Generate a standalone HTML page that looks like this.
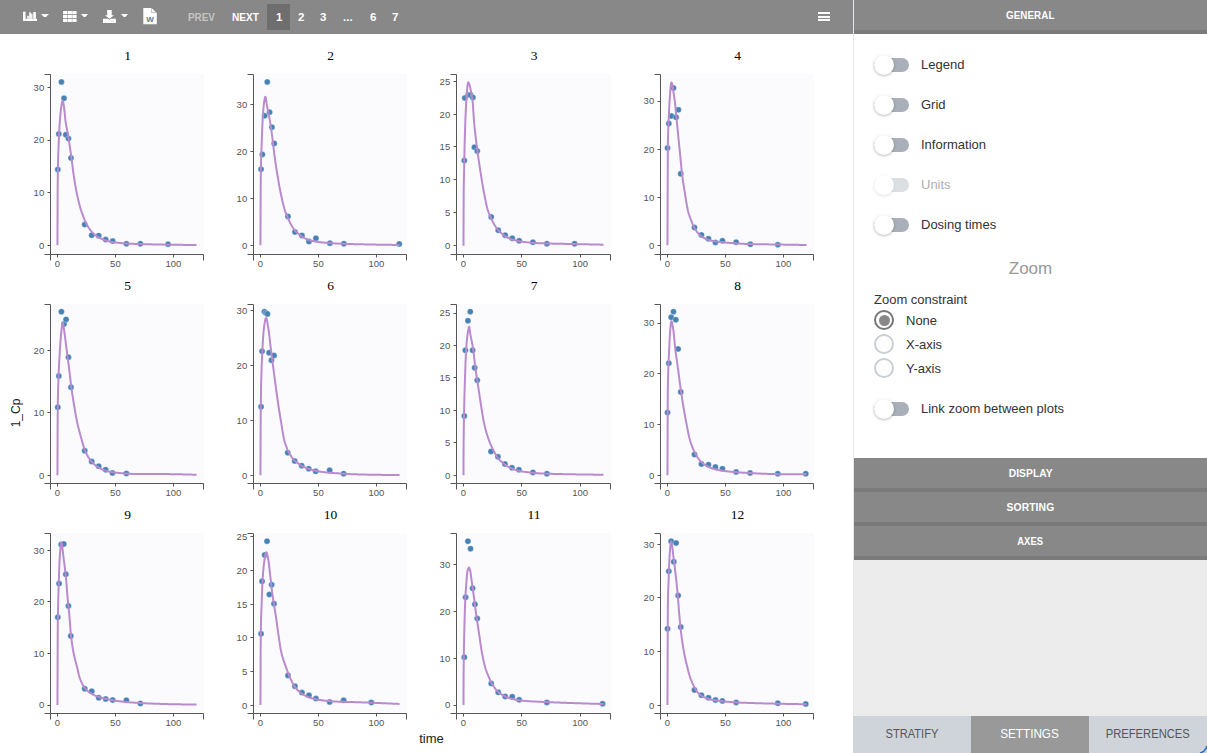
<!DOCTYPE html>
<html><head><meta charset="utf-8">
<style>
*{box-sizing:border-box;margin:0;padding:0}
html,body{width:1207px;height:753px;overflow:hidden;background:#fff;font-family:"Liberation Sans",sans-serif;}
.abs{position:absolute}
#toolbar{position:absolute;left:0;top:0;width:853px;height:34px;background:#888;}
#sep{position:absolute;left:853px;top:0;width:1px;height:716px;background:#e3e6ec;}
.pg{position:absolute;top:0;height:34px;line-height:34px;font-weight:bold;font-size:11.5px;color:#fff;}
.hdr{position:absolute;left:854px;width:353px;height:34px;background:#888;border-bottom:4px solid #7a7a7a;color:#fff;font-weight:bold;font-size:11px;text-align:center;line-height:31px;letter-spacing:0.1px}
.row{position:absolute;left:874px;height:20px;}
.tgl{position:absolute;left:874px;width:35px;height:14px;border-radius:7px;background:#a9b0b9;}
.knob{position:absolute;left:874px;width:20px;height:20px;border-radius:10px;background:#fff;box-shadow:0 1px 3px rgba(0,0,0,0.28);}
.lbl{position:absolute;left:921px;font-size:13px;color:#333;white-space:nowrap}
.rad{position:absolute;left:874px;width:20px;height:20px;border-radius:10px;border:2px solid #c9cfd6;background:#fff}
.tab{position:absolute;top:716px;height:37px;width:118px;text-align:center;line-height:35px;font-size:13px;color:#555;background:#cfd4db}
</style></head>
<body>
<div id="toolbar">
  <!-- chart icon -->
  <svg class="abs" style="left:23px;top:11px" width="14" height="11" viewBox="0 0 14 11">
    <g fill="#fff">
    <rect x="0" y="0.7" width="2.6" height="9.3"/>
    <rect x="0" y="7.8" width="14" height="2.2"/>
    <rect x="4.2" y="4.8" width="1.6" height="3"/>
    <rect x="6.2" y="1.4" width="1.7" height="6.4"/>
    <rect x="8.1" y="2.7" width="1.4" height="5.1"/>
    <rect x="10.3" y="1" width="2.6" height="6.8"/>
    </g>
  </svg>
  <svg class="abs" style="left:41px;top:14px" width="8" height="3" viewBox="0 0 8 3"><path d="M0 0H8L5 3H3Z" fill="#fff"/></svg>
  <!-- grid icon -->
  <svg class="abs" style="left:63px;top:10.9px" width="14" height="11" viewBox="0 0 14 11">
    <g fill="#fff">
    <rect x="0" y="0" width="4.3" height="3.2"/><rect x="4.7" y="0" width="4.2" height="3.2"/><rect x="9.3" y="0" width="4.3" height="3.2"/>
    <rect x="0" y="4" width="4.3" height="3.1"/><rect x="4.7" y="4" width="4.2" height="3.1"/><rect x="9.3" y="4" width="4.3" height="3.1"/>
    <rect x="0" y="7.9" width="4.3" height="3.1"/><rect x="4.7" y="7.9" width="4.2" height="3.1"/><rect x="9.3" y="7.9" width="4.3" height="3.1"/>
    </g>
  </svg>
  <svg class="abs" style="left:81px;top:14px" width="7" height="3" viewBox="0 0 7 3"><path d="M0 0H7L4.3 3H2.7Z" fill="#fff"/></svg>
  <!-- download icon -->
  <svg class="abs" style="left:103px;top:10px" width="13" height="13" viewBox="0 0 13 13">
    <path d="M4.2 0H8.7V5.2H11.1L6.45 8.7L1.9 5.2H4.2Z" fill="#fff"/>
    <path d="M0 8.7H5.2L6.45 9.7L7.7 8.7H12.9V12.9H0Z" fill="#fff"/>
    <rect x="8.3" y="10.6" width="0.9" height="0.9" fill="#bbb"/><rect x="9.8" y="10.6" width="0.9" height="0.9" fill="#bbb"/>
  </svg>
  <svg class="abs" style="left:121px;top:14px" width="7" height="3" viewBox="0 0 7 3"><path d="M0 0H7L4.3 3H2.7Z" fill="#fff"/></svg>
  <!-- word icon -->
  <svg class="abs" style="left:143px;top:7.8px" width="14" height="17" viewBox="0 0 14 17">
    <path d="M0.3 0H8.6L13.8 5V16.3H0.3Z" fill="#fff"/>
    <path d="M8.4 0V4.6H13.8" fill="none" stroke="#9a9a9a" stroke-width="0.6"/>
    <text x="7" y="14" font-family="Liberation Sans" font-weight="bold" font-size="8" fill="#6b7488" text-anchor="middle">W</text>
  </svg>
  <div class="pg" style="left:188px;color:#c4c4c4;transform:scaleX(0.86);transform-origin:0 0">PREV</div>
  <div class="pg" style="left:232px;transform:scaleX(0.88);transform-origin:0 0">NEXT</div>
  <div class="abs" style="left:267px;top:4px;width:23px;height:26px;background:#6e6e6e"></div>
  <div class="pg" style="left:276px">1</div>
  <div class="pg" style="left:298px">2</div>
  <div class="pg" style="left:320px">3</div>
  <div class="pg" style="left:343px">...</div>
  <div class="pg" style="left:370px">6</div>
  <div class="pg" style="left:392px">7</div>
  <!-- hamburger -->
  <div class="abs" style="left:818px;top:11.9px;width:12px;height:2px;background:#fff"></div>
  <div class="abs" style="left:818px;top:15.6px;width:12px;height:2px;background:#fff"></div>
  <div class="abs" style="left:818px;top:19.1px;width:12px;height:2px;background:#fff"></div>
</div>
<div id="sep"></div>

<svg style="position:absolute;left:0;top:0" width="853" height="753" viewBox="0 0 853 753">
<rect x="52" y="74" width="152" height="179" fill="#fbfbfe"/>
<text x="127.50" y="60" font-family="Liberation Serif" font-size="13.5" text-anchor="middle" fill="#000">1</text>
<path d="M44.5,74.5H50.5V254.5H44.5" stroke="#555" fill="none" stroke-width="1"/>
<line x1="47.5" y1="87.5" x2="50.5" y2="87.5" stroke="#555"/>
<text x="44.2" y="90.82" font-family="Liberation Sans" font-size="9.5" text-anchor="end" fill="#555">30</text>
<line x1="47.5" y1="140.5" x2="50.5" y2="140.5" stroke="#555"/>
<text x="44.2" y="143.45" font-family="Liberation Sans" font-size="9.5" text-anchor="end" fill="#555">20</text>
<line x1="47.5" y1="192.5" x2="50.5" y2="192.5" stroke="#555"/>
<text x="44.2" y="196.07" font-family="Liberation Sans" font-size="9.5" text-anchor="end" fill="#555">10</text>
<line x1="47.5" y1="245.5" x2="50.5" y2="245.5" stroke="#555"/>
<text x="44.2" y="248.70" font-family="Liberation Sans" font-size="9.5" text-anchor="end" fill="#555">0</text>
<path d="M50.5,260.5V254.5H203.5V260.5" stroke="#555" fill="none" stroke-width="1"/>
<line x1="57.5" y1="254.5" x2="57.5" y2="257.5" stroke="#555"/>
<text x="57.45" y="267.0" font-family="Liberation Sans" font-size="9.5" text-anchor="middle" fill="#555">0</text>
<line x1="115.5" y1="254.5" x2="115.5" y2="257.5" stroke="#555"/>
<text x="115.41" y="267.0" font-family="Liberation Sans" font-size="9.5" text-anchor="middle" fill="#555">50</text>
<line x1="173.5" y1="254.5" x2="173.5" y2="257.5" stroke="#555"/>
<text x="173.36" y="267.0" font-family="Liberation Sans" font-size="9.5" text-anchor="middle" fill="#555">100</text>
<circle cx="57.79" cy="169.40" r="3.0" fill="#4682b4" stroke="#fff" stroke-opacity="0.5" stroke-width="0.6"/>
<circle cx="58.83" cy="133.94" r="3.0" fill="#4682b4" stroke="#fff" stroke-opacity="0.5" stroke-width="0.6"/>
<circle cx="61.42" cy="81.91" r="3.0" fill="#4682b4" stroke="#fff" stroke-opacity="0.5" stroke-width="0.6"/>
<circle cx="64.01" cy="98.22" r="3.0" fill="#4682b4" stroke="#fff" stroke-opacity="0.5" stroke-width="0.6"/>
<circle cx="65.82" cy="134.71" r="3.0" fill="#4682b4" stroke="#fff" stroke-opacity="0.5" stroke-width="0.6"/>
<circle cx="68.41" cy="138.60" r="3.0" fill="#4682b4" stroke="#fff" stroke-opacity="0.5" stroke-width="0.6"/>
<circle cx="70.99" cy="158.01" r="3.0" fill="#4682b4" stroke="#fff" stroke-opacity="0.5" stroke-width="0.6"/>
<circle cx="84.71" cy="224.54" r="3.0" fill="#4682b4" stroke="#fff" stroke-opacity="0.5" stroke-width="0.6"/>
<circle cx="91.70" cy="235.15" r="3.0" fill="#4682b4" stroke="#fff" stroke-opacity="0.5" stroke-width="0.6"/>
<circle cx="98.69" cy="235.67" r="3.0" fill="#4682b4" stroke="#fff" stroke-opacity="0.5" stroke-width="0.6"/>
<circle cx="105.68" cy="239.55" r="3.0" fill="#4682b4" stroke="#fff" stroke-opacity="0.5" stroke-width="0.6"/>
<circle cx="112.67" cy="241.10" r="3.0" fill="#4682b4" stroke="#fff" stroke-opacity="0.5" stroke-width="0.6"/>
<circle cx="126.39" cy="243.69" r="3.0" fill="#4682b4" stroke="#fff" stroke-opacity="0.5" stroke-width="0.6"/>
<circle cx="140.37" cy="243.69" r="3.0" fill="#4682b4" stroke="#fff" stroke-opacity="0.5" stroke-width="0.6"/>
<circle cx="168.07" cy="244.21" r="3.0" fill="#4682b4" stroke="#fff" stroke-opacity="0.5" stroke-width="0.6"/>
<path d="M57.45,245.30L57.49,235.26L57.52,225.79L57.56,216.85L57.59,207.81L57.62,199.37L57.66,192.86L57.69,187.82L57.73,183.40L57.76,179.55L57.79,176.19L57.83,173.29L57.86,170.78L57.90,168.63L57.93,166.71L57.96,164.97L58.00,163.39L58.03,161.94L58.06,160.60L58.10,159.36L58.13,158.21L58.17,157.12L58.20,156.08L58.23,155.10L58.27,154.15L58.30,153.23L58.34,152.33L58.37,151.45L58.40,150.58L58.44,149.72L58.47,148.86L58.51,148.00L58.54,147.13L58.57,146.26L58.61,145.38L58.64,144.50L58.67,143.63L58.71,142.78L58.74,141.93L58.78,141.09L58.81,140.27L58.84,139.45L58.88,138.65L58.91,137.86L58.95,137.08L58.98,136.31L59.01,135.56L59.05,134.82L59.08,134.09L59.12,133.38L59.15,132.67L59.18,131.99L59.22,131.31L59.25,130.65L59.29,130.00L59.32,129.36L59.35,128.73L59.39,128.12L59.42,127.52L59.45,126.93L59.50,126.09L59.96,119.49L60.42,114.16L60.88,109.93L61.34,106.68L61.80,103.64L62.25,101.43L62.71,100.77L63.17,102.05L63.63,104.55L64.09,107.42L64.55,111.67L65.00,116.73L65.46,120.54L65.92,123.59L66.38,126.26L66.84,128.73L67.30,131.16L67.75,133.63L68.21,136.25L68.67,139.05L69.13,141.97L69.59,144.99L70.05,148.07L70.50,151.22L70.96,154.41L71.42,157.70L71.88,161.27L72.34,164.98L72.80,168.64L73.25,172.12L73.71,175.30L74.17,178.32L74.63,181.24L75.09,184.03L75.55,186.70L76.00,189.23L76.46,191.63L76.92,193.88L77.38,196.03L77.84,198.09L78.30,200.06L78.75,201.95L79.21,203.75L79.67,205.48L80.13,207.13L80.59,208.70L81.05,210.20L81.50,211.61L81.96,212.92L82.42,214.18L82.88,215.41L83.34,216.63L83.80,217.81L84.25,218.95L84.71,220.05L85.17,221.08L85.63,222.07L86.09,223.03L86.55,223.95L87.00,224.82L87.46,225.66L87.92,226.45L88.38,227.21L88.84,227.95L89.30,228.65L89.75,229.32L90.21,229.95L90.67,230.54L91.13,231.09L91.59,231.62L92.05,232.11L92.50,232.58L92.96,233.03L93.42,233.46L93.88,233.87L94.34,234.27L94.80,234.65L95.25,235.02L95.71,235.37L96.17,235.71L96.63,236.04L97.09,236.35L97.55,236.65L98.00,236.94L98.46,237.21L98.92,237.47L99.38,237.72L99.84,237.96L100.30,238.19L100.75,238.42L101.21,238.64L101.67,238.84L102.13,239.05L102.59,239.25L103.05,239.44L103.50,239.64L103.96,239.82L104.42,240.01L104.88,240.18L105.34,240.35L105.80,240.51L106.25,240.65L106.71,240.79L107.17,240.92L107.63,241.04L108.09,241.15L108.55,241.26L109.00,241.36L109.46,241.46L109.92,241.55L110.38,241.65L110.84,241.73L111.30,241.82L111.75,241.90L112.21,241.98L112.67,242.06L113.13,242.13L113.59,242.21L114.05,242.28L114.50,242.35L114.96,242.41L115.42,242.48L115.88,242.54L116.34,242.60L116.80,242.65L117.25,242.71L117.71,242.76L118.17,242.81L118.63,242.86L119.09,242.91L119.55,242.95L120.00,243.00L120.46,243.04L120.92,243.08L121.38,243.12L121.84,243.16L122.30,243.20L122.75,243.24L123.21,243.27L123.67,243.31L124.13,243.34L124.59,243.37L125.05,243.41L125.50,243.44L125.96,243.47L126.42,243.50L126.88,243.52L127.34,243.55L127.80,243.58L128.25,243.60L128.71,243.63L129.17,243.65L129.63,243.67L130.09,243.70L130.55,243.72L131.00,243.74L131.46,243.76L131.92,243.78L132.38,243.80L132.84,243.82L133.30,243.84L133.75,243.86L134.21,243.88L134.67,243.89L135.13,243.91L135.59,243.93L136.05,243.95L136.50,243.96L136.96,243.98L137.42,244.00L137.88,244.01L138.34,244.03L138.80,244.05L139.25,244.06L139.71,244.08L140.17,244.09L140.63,244.11L141.09,244.12L141.55,244.14L142.00,244.15L142.46,244.16L142.92,244.18L143.38,244.19L143.84,244.20L144.30,244.21L144.75,244.22L145.21,244.23L145.67,244.24L146.13,244.25L146.59,244.27L147.05,244.28L147.50,244.29L147.96,244.30L148.42,244.31L148.88,244.32L149.34,244.33L149.80,244.34L150.25,244.35L150.71,244.36L151.17,244.37L151.63,244.38L152.09,244.39L152.55,244.40L153.00,244.41L153.46,244.42L153.92,244.43L154.38,244.44L154.84,244.45L155.30,244.46L155.75,244.47L156.21,244.47L156.67,244.48L157.13,244.49L157.59,244.50L158.05,244.51L158.50,244.52L158.96,244.53L159.42,244.54L159.88,244.54L160.34,244.55L160.80,244.56L161.25,244.57L161.71,244.58L162.17,244.59L162.63,244.59L163.09,244.60L163.55,244.61L164.00,244.62L164.46,244.63L164.92,244.63L165.38,244.64L165.84,244.65L166.30,244.66L166.75,244.66L167.21,244.67L167.67,244.68L168.13,244.68L168.59,244.69L169.05,244.70L169.50,244.71L169.96,244.71L170.42,244.72L170.88,244.73L171.34,244.73L171.80,244.74L172.25,244.74L172.71,244.75L173.17,244.76L173.63,244.76L174.09,244.77L174.55,244.78L175.00,244.78L175.46,244.79L175.92,244.79L176.38,244.80L176.84,244.80L177.30,244.81L177.75,244.82L178.21,244.82L178.67,244.83L179.13,244.83L179.59,244.84L180.05,244.84L180.50,244.85L180.96,244.85L181.42,244.86L181.88,244.86L182.34,244.87L182.80,244.87L183.25,244.88L183.71,244.88L184.17,244.89L184.63,244.89L185.09,244.89L185.55,244.90L186.00,244.90L186.46,244.91L186.92,244.91L187.38,244.91L187.84,244.92L188.30,244.92L188.75,244.93L189.21,244.93L189.67,244.93L190.13,244.94L190.59,244.94L191.05,244.94L191.50,244.95L191.96,244.95L192.42,244.95L192.88,244.96L193.34,244.96L193.80,244.96L194.25,244.97L194.71,244.97L195.17,244.97L195.63,244.98L196.09,244.98L196.55,244.98" stroke="#b98bce" stroke-width="2" fill="none" stroke-linejoin="round"/>
<rect x="255" y="74" width="152" height="179" fill="#fbfbfe"/>
<text x="330.50" y="60" font-family="Liberation Serif" font-size="13.5" text-anchor="middle" fill="#000">2</text>
<path d="M247.5,74.5H253.5V254.5H247.5" stroke="#555" fill="none" stroke-width="1"/>
<line x1="250.5" y1="104.5" x2="253.5" y2="104.5" stroke="#555"/>
<text x="247.2" y="107.78" font-family="Liberation Sans" font-size="9.5" text-anchor="end" fill="#555">30</text>
<line x1="250.5" y1="151.5" x2="253.5" y2="151.5" stroke="#555"/>
<text x="247.2" y="154.71" font-family="Liberation Sans" font-size="9.5" text-anchor="end" fill="#555">20</text>
<line x1="250.5" y1="198.5" x2="253.5" y2="198.5" stroke="#555"/>
<text x="247.2" y="201.64" font-family="Liberation Sans" font-size="9.5" text-anchor="end" fill="#555">10</text>
<line x1="250.5" y1="245.5" x2="253.5" y2="245.5" stroke="#555"/>
<text x="247.2" y="248.57" font-family="Liberation Sans" font-size="9.5" text-anchor="end" fill="#555">0</text>
<path d="M253.5,260.5V254.5H406.5V260.5" stroke="#555" fill="none" stroke-width="1"/>
<line x1="260.5" y1="254.5" x2="260.5" y2="257.5" stroke="#555"/>
<text x="260.45" y="267.0" font-family="Liberation Sans" font-size="9.5" text-anchor="middle" fill="#555">0</text>
<line x1="318.5" y1="254.5" x2="318.5" y2="257.5" stroke="#555"/>
<text x="318.41" y="267.0" font-family="Liberation Sans" font-size="9.5" text-anchor="middle" fill="#555">50</text>
<line x1="376.5" y1="254.5" x2="376.5" y2="257.5" stroke="#555"/>
<text x="376.36" y="267.0" font-family="Liberation Sans" font-size="9.5" text-anchor="middle" fill="#555">100</text>
<circle cx="261.05" cy="169.14" r="3.0" fill="#4682b4" stroke="#fff" stroke-opacity="0.5" stroke-width="0.6"/>
<circle cx="262.35" cy="154.39" r="3.0" fill="#4682b4" stroke="#fff" stroke-opacity="0.5" stroke-width="0.6"/>
<circle cx="264.68" cy="115.82" r="3.0" fill="#4682b4" stroke="#fff" stroke-opacity="0.5" stroke-width="0.6"/>
<circle cx="267.26" cy="81.91" r="3.0" fill="#4682b4" stroke="#fff" stroke-opacity="0.5" stroke-width="0.6"/>
<circle cx="269.59" cy="112.19" r="3.0" fill="#4682b4" stroke="#fff" stroke-opacity="0.5" stroke-width="0.6"/>
<circle cx="271.92" cy="127.21" r="3.0" fill="#4682b4" stroke="#fff" stroke-opacity="0.5" stroke-width="0.6"/>
<circle cx="274.25" cy="143.51" r="3.0" fill="#4682b4" stroke="#fff" stroke-opacity="0.5" stroke-width="0.6"/>
<circle cx="287.97" cy="216.51" r="3.0" fill="#4682b4" stroke="#fff" stroke-opacity="0.5" stroke-width="0.6"/>
<circle cx="294.96" cy="232.04" r="3.0" fill="#4682b4" stroke="#fff" stroke-opacity="0.5" stroke-width="0.6"/>
<circle cx="301.95" cy="235.41" r="3.0" fill="#4682b4" stroke="#fff" stroke-opacity="0.5" stroke-width="0.6"/>
<circle cx="308.94" cy="241.62" r="3.0" fill="#4682b4" stroke="#fff" stroke-opacity="0.5" stroke-width="0.6"/>
<circle cx="315.93" cy="238.26" r="3.0" fill="#4682b4" stroke="#fff" stroke-opacity="0.5" stroke-width="0.6"/>
<circle cx="329.91" cy="243.17" r="3.0" fill="#4682b4" stroke="#fff" stroke-opacity="0.5" stroke-width="0.6"/>
<circle cx="343.89" cy="243.69" r="3.0" fill="#4682b4" stroke="#fff" stroke-opacity="0.5" stroke-width="0.6"/>
<circle cx="399.28" cy="243.95" r="3.0" fill="#4682b4" stroke="#fff" stroke-opacity="0.5" stroke-width="0.6"/>
<path d="M260.45,245.17L260.49,235.19L260.52,225.77L260.56,216.85L260.59,207.81L260.62,199.37L260.66,192.86L260.69,187.82L260.73,183.40L260.76,179.55L260.79,176.19L260.83,173.29L260.86,170.78L260.90,168.63L260.93,166.72L260.96,165.01L261.00,163.46L261.03,162.05L261.06,160.75L261.10,159.55L261.13,158.43L261.17,157.37L261.20,156.36L261.23,155.40L261.27,154.46L261.30,153.55L261.34,152.65L261.37,151.76L261.40,150.88L261.44,149.98L261.47,149.09L261.51,148.18L261.54,147.25L261.57,146.31L261.61,145.35L261.64,144.39L261.67,143.41L261.71,142.44L261.74,141.47L261.78,140.50L261.81,139.53L261.84,138.57L261.88,137.62L261.91,136.69L261.95,135.76L261.98,134.84L262.01,133.94L262.05,133.04L262.08,132.17L262.12,131.31L262.15,130.46L262.18,129.63L262.22,128.82L262.25,128.03L262.29,127.25L262.32,126.49L262.35,125.75L262.39,125.03L262.42,124.32L262.45,123.63L262.50,122.66L262.96,114.59L263.42,108.21L263.88,103.98L264.34,100.56L264.80,98.02L265.25,96.78L265.71,97.42L266.17,100.32L266.63,103.67L267.09,106.33L267.55,108.65L268.00,110.88L268.46,113.12L268.92,115.43L269.38,117.87L269.84,120.49L270.30,123.33L270.75,126.33L271.21,129.46L271.67,132.68L272.13,135.96L272.59,139.39L273.05,143.24L273.50,147.27L273.96,151.24L274.42,154.95L274.88,158.35L275.34,161.59L275.80,164.70L276.25,167.71L276.71,170.63L277.17,173.47L277.63,176.26L278.09,179.01L278.55,181.69L279.00,184.30L279.46,186.83L279.92,189.26L280.38,191.58L280.84,193.81L281.30,195.98L281.75,198.11L282.21,200.17L282.67,202.16L283.13,204.06L283.59,205.86L284.05,207.55L284.50,209.12L284.96,210.56L285.42,211.89L285.88,213.11L286.34,214.27L286.80,215.38L287.25,216.48L287.71,217.56L288.17,218.64L288.63,219.69L289.09,220.71L289.55,221.69L290.00,222.63L290.46,223.51L290.92,224.36L291.38,225.17L291.84,225.96L292.30,226.72L292.75,227.44L293.21,228.13L293.67,228.78L294.13,229.39L294.59,229.95L295.05,230.49L295.50,230.99L295.96,231.47L296.42,231.93L296.88,232.37L297.34,232.79L297.80,233.21L298.25,233.61L298.71,234.00L299.17,234.39L299.63,234.77L300.09,235.14L300.55,235.50L301.00,235.84L301.46,236.18L301.92,236.49L302.38,236.80L302.84,237.08L303.30,237.36L303.75,237.62L304.21,237.88L304.67,238.12L305.13,238.36L305.59,238.59L306.05,238.81L306.50,239.01L306.96,239.21L307.42,239.40L307.88,239.57L308.34,239.74L308.80,239.90L309.25,240.05L309.71,240.20L310.17,240.34L310.63,240.47L311.09,240.60L311.55,240.72L312.00,240.83L312.46,240.94L312.92,241.05L313.38,241.15L313.84,241.25L314.30,241.35L314.75,241.44L315.21,241.53L315.67,241.61L316.13,241.69L316.59,241.77L317.05,241.84L317.50,241.91L317.96,241.97L318.42,242.04L318.88,242.10L319.34,242.15L319.80,242.21L320.25,242.26L320.71,242.31L321.17,242.36L321.63,242.41L322.09,242.46L322.55,242.50L323.00,242.54L323.46,242.59L323.92,242.62L324.38,242.66L324.84,242.70L325.30,242.73L325.75,242.77L326.21,242.80L326.67,242.84L327.13,242.87L327.59,242.91L328.05,242.94L328.50,242.97L328.96,243.01L329.42,243.04L329.88,243.07L330.34,243.10L330.80,243.14L331.25,243.17L331.71,243.20L332.17,243.23L332.63,243.26L333.09,243.29L333.55,243.32L334.00,243.35L334.46,243.38L334.92,243.42L335.38,243.45L335.84,243.48L336.30,243.51L336.75,243.54L337.21,243.57L337.67,243.60L338.13,243.62L338.59,243.65L339.05,243.67L339.50,243.69L339.96,243.72L340.42,243.73L340.88,243.75L341.34,243.77L341.80,243.79L342.25,243.80L342.71,243.82L343.17,243.83L343.63,243.85L344.09,243.86L344.55,243.87L345.00,243.89L345.46,243.90L345.92,243.91L346.38,243.93L346.84,243.94L347.30,243.95L347.75,243.97L348.21,243.98L348.67,243.99L349.13,244.00L349.59,244.02L350.05,244.03L350.50,244.04L350.96,244.05L351.42,244.07L351.88,244.08L352.34,244.09L352.80,244.10L353.25,244.11L353.71,244.13L354.17,244.14L354.63,244.15L355.09,244.16L355.55,244.17L356.00,244.18L356.46,244.20L356.92,244.21L357.38,244.22L357.84,244.23L358.30,244.24L358.75,244.25L359.21,244.26L359.67,244.27L360.13,244.28L360.59,244.29L361.05,244.31L361.50,244.32L361.96,244.33L362.42,244.34L362.88,244.35L363.34,244.36L363.80,244.37L364.25,244.38L364.71,244.39L365.17,244.40L365.63,244.41L366.09,244.42L366.55,244.43L367.00,244.44L367.46,244.45L367.92,244.46L368.38,244.47L368.84,244.48L369.30,244.48L369.75,244.49L370.21,244.50L370.67,244.51L371.13,244.52L371.59,244.53L372.05,244.54L372.50,244.55L372.96,244.56L373.42,244.57L373.88,244.58L374.34,244.58L374.80,244.59L375.25,244.60L375.71,244.61L376.17,244.62L376.63,244.63L377.09,244.63L377.55,244.64L378.00,244.65L378.46,244.66L378.92,244.67L379.38,244.68L379.84,244.68L380.30,244.69L380.75,244.70L381.21,244.71L381.67,244.72L382.13,244.72L382.59,244.73L383.05,244.74L383.50,244.75L383.96,244.75L384.42,244.76L384.88,244.77L385.34,244.78L385.80,244.78L386.25,244.79L386.71,244.80L387.17,244.80L387.63,244.81L388.09,244.82L388.55,244.82L389.00,244.83L389.46,244.84L389.92,244.85L390.38,244.85L390.84,244.86L391.30,244.87L391.75,244.87L392.21,244.88L392.67,244.89L393.13,244.89L393.59,244.90L394.05,244.90L394.50,244.91L394.96,244.92L395.42,244.92L395.88,244.93L396.34,244.94L396.80,244.94L397.25,244.95L397.71,244.95L398.17,244.96L398.63,244.97L399.09,244.97L399.55,244.98" stroke="#b98bce" stroke-width="2" fill="none" stroke-linejoin="round"/>
<rect x="458" y="74" width="153" height="179" fill="#fbfbfe"/>
<text x="534.00" y="60" font-family="Liberation Serif" font-size="13.5" text-anchor="middle" fill="#000">3</text>
<path d="M450.5,74.5H456.5V254.5H450.5" stroke="#555" fill="none" stroke-width="1"/>
<line x1="453.5" y1="81.5" x2="456.5" y2="81.5" stroke="#555"/>
<text x="450.2" y="84.60" font-family="Liberation Sans" font-size="9.5" text-anchor="end" fill="#555">25</text>
<line x1="453.5" y1="114.5" x2="456.5" y2="114.5" stroke="#555"/>
<text x="450.2" y="117.50" font-family="Liberation Sans" font-size="9.5" text-anchor="end" fill="#555">20</text>
<line x1="453.5" y1="146.5" x2="456.5" y2="146.5" stroke="#555"/>
<text x="450.2" y="150.40" font-family="Liberation Sans" font-size="9.5" text-anchor="end" fill="#555">15</text>
<line x1="453.5" y1="179.5" x2="456.5" y2="179.5" stroke="#555"/>
<text x="450.2" y="183.30" font-family="Liberation Sans" font-size="9.5" text-anchor="end" fill="#555">10</text>
<line x1="453.5" y1="212.5" x2="456.5" y2="212.5" stroke="#555"/>
<text x="450.2" y="216.19" font-family="Liberation Sans" font-size="9.5" text-anchor="end" fill="#555">5</text>
<line x1="453.5" y1="245.5" x2="456.5" y2="245.5" stroke="#555"/>
<text x="450.2" y="249.09" font-family="Liberation Sans" font-size="9.5" text-anchor="end" fill="#555">0</text>
<path d="M456.5,260.5V254.5H610.5V260.5" stroke="#555" fill="none" stroke-width="1"/>
<line x1="463.5" y1="254.5" x2="463.5" y2="257.5" stroke="#555"/>
<text x="463.50" y="267.0" font-family="Liberation Sans" font-size="9.5" text-anchor="middle" fill="#555">0</text>
<line x1="521.5" y1="254.5" x2="521.5" y2="257.5" stroke="#555"/>
<text x="521.83" y="267.0" font-family="Liberation Sans" font-size="9.5" text-anchor="middle" fill="#555">50</text>
<line x1="580.5" y1="254.5" x2="580.5" y2="257.5" stroke="#555"/>
<text x="580.17" y="267.0" font-family="Liberation Sans" font-size="9.5" text-anchor="middle" fill="#555">100</text>
<circle cx="464.31" cy="160.60" r="3.0" fill="#4682b4" stroke="#fff" stroke-opacity="0.5" stroke-width="0.6"/>
<circle cx="464.83" cy="97.96" r="3.0" fill="#4682b4" stroke="#fff" stroke-opacity="0.5" stroke-width="0.6"/>
<circle cx="468.19" cy="95.11" r="3.0" fill="#4682b4" stroke="#fff" stroke-opacity="0.5" stroke-width="0.6"/>
<circle cx="470.52" cy="95.11" r="3.0" fill="#4682b4" stroke="#fff" stroke-opacity="0.5" stroke-width="0.6"/>
<circle cx="472.85" cy="97.44" r="3.0" fill="#4682b4" stroke="#fff" stroke-opacity="0.5" stroke-width="0.6"/>
<circle cx="474.41" cy="147.14" r="3.0" fill="#4682b4" stroke="#fff" stroke-opacity="0.5" stroke-width="0.6"/>
<circle cx="477.25" cy="151.02" r="3.0" fill="#4682b4" stroke="#fff" stroke-opacity="0.5" stroke-width="0.6"/>
<circle cx="491.23" cy="217.03" r="3.0" fill="#4682b4" stroke="#fff" stroke-opacity="0.5" stroke-width="0.6"/>
<circle cx="498.22" cy="230.23" r="3.0" fill="#4682b4" stroke="#fff" stroke-opacity="0.5" stroke-width="0.6"/>
<circle cx="505.21" cy="235.15" r="3.0" fill="#4682b4" stroke="#fff" stroke-opacity="0.5" stroke-width="0.6"/>
<circle cx="512.20" cy="238.26" r="3.0" fill="#4682b4" stroke="#fff" stroke-opacity="0.5" stroke-width="0.6"/>
<circle cx="519.19" cy="240.84" r="3.0" fill="#4682b4" stroke="#fff" stroke-opacity="0.5" stroke-width="0.6"/>
<circle cx="532.91" cy="242.14" r="3.0" fill="#4682b4" stroke="#fff" stroke-opacity="0.5" stroke-width="0.6"/>
<circle cx="546.89" cy="243.69" r="3.0" fill="#4682b4" stroke="#fff" stroke-opacity="0.5" stroke-width="0.6"/>
<circle cx="574.58" cy="243.69" r="3.0" fill="#4682b4" stroke="#fff" stroke-opacity="0.5" stroke-width="0.6"/>
<path d="M463.50,245.69L463.53,235.46L463.57,225.87L463.60,216.84L463.64,207.39L463.67,198.69L463.70,193.01L463.74,189.48L463.77,186.62L463.81,184.26L463.84,182.27L463.87,180.54L463.91,178.99L463.94,177.54L463.97,176.12L464.01,174.70L464.04,173.23L464.08,171.67L464.11,170.00L464.14,168.22L464.18,166.41L464.21,164.59L464.25,162.76L464.28,160.94L464.31,159.14L464.35,157.37L464.38,155.63L464.42,153.93L464.45,152.27L464.48,150.66L464.52,149.10L464.55,147.60L464.58,146.15L464.62,144.76L464.65,143.39L464.69,142.05L464.72,140.74L464.75,139.45L464.79,138.19L464.82,136.96L464.86,135.75L464.89,134.57L464.92,133.41L464.96,132.28L464.99,131.17L465.03,130.09L465.06,129.02L465.09,127.99L465.13,126.97L465.16,125.97L465.19,125.00L465.23,124.05L465.26,123.12L465.30,122.21L465.33,121.31L465.36,120.43L465.40,119.56L465.43,118.70L465.47,117.85L465.50,117.01L465.55,115.80L466.01,105.87L466.47,98.35L466.93,91.96L467.40,86.43L467.86,83.07L468.32,82.39L468.78,82.95L469.24,84.07L469.70,85.61L470.16,87.49L470.63,89.62L471.09,91.95L471.55,94.44L472.01,97.05L472.47,99.76L472.93,104.73L473.39,112.38L473.85,119.09L474.32,124.27L474.78,128.96L475.24,133.31L475.70,137.44L476.16,141.34L476.62,145.00L477.08,148.49L477.55,151.87L478.01,155.20L478.47,158.47L478.93,161.66L479.39,164.78L479.85,167.83L480.31,170.81L480.78,173.74L481.24,176.63L481.70,179.50L482.16,182.33L482.62,185.09L483.08,187.77L483.54,190.35L484.00,192.81L484.47,195.20L484.93,197.58L485.39,199.91L485.85,202.15L486.31,204.28L486.77,206.27L487.23,208.09L487.70,209.73L488.16,211.18L488.62,212.49L489.08,213.70L489.54,214.83L490.00,215.91L490.46,216.97L490.93,218.00L491.39,218.99L491.85,219.93L492.31,220.85L492.77,221.73L493.23,222.58L493.69,223.41L494.16,224.22L494.62,225.02L495.08,225.80L495.54,226.55L496.00,227.27L496.46,227.95L496.92,228.58L497.38,229.17L497.85,229.73L498.31,230.25L498.77,230.74L499.23,231.21L499.69,231.66L500.15,232.09L500.61,232.51L501.08,232.92L501.54,233.32L502.00,233.72L502.46,234.10L502.92,234.48L503.38,234.84L503.84,235.19L504.31,235.53L504.77,235.86L505.23,236.17L505.69,236.46L506.15,236.74L506.61,237.01L507.07,237.27L507.53,237.52L508.00,237.76L508.46,237.99L508.92,238.22L509.38,238.43L509.84,238.63L510.30,238.82L510.76,239.00L511.23,239.17L511.69,239.33L512.15,239.48L512.61,239.63L513.07,239.77L513.53,239.90L513.99,240.03L514.46,240.16L514.92,240.28L515.38,240.40L515.84,240.52L516.30,240.63L516.76,240.74L517.22,240.85L517.68,240.95L518.15,241.05L518.61,241.15L519.07,241.24L519.53,241.32L519.99,241.40L520.45,241.48L520.91,241.55L521.38,241.62L521.84,241.68L522.30,241.74L522.76,241.80L523.22,241.86L523.68,241.92L524.14,241.97L524.61,242.02L525.07,242.08L525.53,242.13L525.99,242.18L526.45,242.23L526.91,242.28L527.37,242.33L527.84,242.38L528.30,242.43L528.76,242.47L529.22,242.52L529.68,242.56L530.14,242.60L530.60,242.64L531.06,242.68L531.53,242.71L531.99,242.75L532.45,242.79L532.91,242.82L533.37,242.85L533.83,242.89L534.29,242.92L534.76,242.95L535.22,242.97L535.68,243.00L536.14,243.03L536.60,243.05L537.06,243.08L537.52,243.10L537.99,243.13L538.45,243.15L538.91,243.17L539.37,243.20L539.83,243.22L540.29,243.24L540.75,243.26L541.21,243.28L541.68,243.30L542.14,243.31L542.60,243.33L543.06,243.35L543.52,243.36L543.98,243.38L544.44,243.39L544.91,243.41L545.37,243.43L545.83,243.44L546.29,243.45L546.75,243.47L547.21,243.48L547.67,243.50L548.14,243.51L548.60,243.52L549.06,243.53L549.52,243.55L549.98,243.56L550.44,243.57L550.90,243.58L551.37,243.59L551.83,243.61L552.29,243.62L552.75,243.63L553.21,243.64L553.67,243.65L554.13,243.66L554.59,243.67L555.06,243.68L555.52,243.69L555.98,243.70L556.44,243.71L556.90,243.72L557.36,243.73L557.82,243.74L558.29,243.75L558.75,243.76L559.21,243.77L559.67,243.78L560.13,243.79L560.59,243.80L561.05,243.81L561.52,243.82L561.98,243.83L562.44,243.84L562.90,243.84L563.36,243.85L563.82,243.86L564.28,243.87L564.74,243.88L565.21,243.89L565.67,243.90L566.13,243.91L566.59,243.92L567.05,243.92L567.51,243.93L567.97,243.94L568.44,243.95L568.90,243.96L569.36,243.97L569.82,243.98L570.28,243.99L570.74,244.00L571.20,244.00L571.67,244.01L572.13,244.02L572.59,244.03L573.05,244.04L573.51,244.05L573.97,244.06L574.43,244.07L574.89,244.08L575.36,244.09L575.82,244.10L576.28,244.11L576.74,244.11L577.20,244.12L577.66,244.13L578.12,244.14L578.59,244.15L579.05,244.16L579.51,244.17L579.97,244.18L580.43,244.19L580.89,244.20L581.35,244.21L581.82,244.22L582.28,244.23L582.74,244.24L583.20,244.25L583.66,244.26L584.12,244.27L584.58,244.28L585.05,244.29L585.51,244.30L585.97,244.31L586.43,244.32L586.89,244.33L587.35,244.34L587.81,244.35L588.27,244.36L588.74,244.37L589.20,244.38L589.66,244.39L590.12,244.40L590.58,244.41L591.04,244.42L591.50,244.44L591.97,244.45L592.43,244.46L592.89,244.47L593.35,244.48L593.81,244.49L594.27,244.50L594.73,244.51L595.20,244.52L595.66,244.53L596.12,244.54L596.58,244.55L597.04,244.56L597.50,244.57L597.96,244.58L598.42,244.59L598.89,244.60L599.35,244.61L599.81,244.62L600.27,244.63L600.73,244.64L601.19,244.65L601.65,244.66L602.12,244.67L602.58,244.68L603.04,244.69L603.50,244.70" stroke="#b98bce" stroke-width="2" fill="none" stroke-linejoin="round"/>
<rect x="662" y="74" width="152" height="179" fill="#fbfbfe"/>
<text x="737.50" y="60" font-family="Liberation Serif" font-size="13.5" text-anchor="middle" fill="#000">4</text>
<path d="M654.5,74.5H660.5V254.5H654.5" stroke="#555" fill="none" stroke-width="1"/>
<line x1="657.5" y1="101.5" x2="660.5" y2="101.5" stroke="#555"/>
<text x="654.2" y="104.41" font-family="Liberation Sans" font-size="9.5" text-anchor="end" fill="#555">30</text>
<line x1="657.5" y1="149.5" x2="660.5" y2="149.5" stroke="#555"/>
<text x="654.2" y="152.51" font-family="Liberation Sans" font-size="9.5" text-anchor="end" fill="#555">20</text>
<line x1="657.5" y1="197.5" x2="660.5" y2="197.5" stroke="#555"/>
<text x="654.2" y="200.60" font-family="Liberation Sans" font-size="9.5" text-anchor="end" fill="#555">10</text>
<line x1="657.5" y1="245.5" x2="660.5" y2="245.5" stroke="#555"/>
<text x="654.2" y="248.70" font-family="Liberation Sans" font-size="9.5" text-anchor="end" fill="#555">0</text>
<path d="M660.5,260.5V254.5H813.5V260.5" stroke="#555" fill="none" stroke-width="1"/>
<line x1="667.5" y1="254.5" x2="667.5" y2="257.5" stroke="#555"/>
<text x="667.45" y="267.0" font-family="Liberation Sans" font-size="9.5" text-anchor="middle" fill="#555">0</text>
<line x1="725.5" y1="254.5" x2="725.5" y2="257.5" stroke="#555"/>
<text x="725.41" y="267.0" font-family="Liberation Sans" font-size="9.5" text-anchor="middle" fill="#555">50</text>
<line x1="783.5" y1="254.5" x2="783.5" y2="257.5" stroke="#555"/>
<text x="783.36" y="267.0" font-family="Liberation Sans" font-size="9.5" text-anchor="middle" fill="#555">100</text>
<circle cx="667.53" cy="147.92" r="3.0" fill="#4682b4" stroke="#fff" stroke-opacity="0.5" stroke-width="0.6"/>
<circle cx="668.83" cy="123.58" r="3.0" fill="#4682b4" stroke="#fff" stroke-opacity="0.5" stroke-width="0.6"/>
<circle cx="671.42" cy="116.08" r="3.0" fill="#4682b4" stroke="#fff" stroke-opacity="0.5" stroke-width="0.6"/>
<circle cx="673.49" cy="88.12" r="3.0" fill="#4682b4" stroke="#fff" stroke-opacity="0.5" stroke-width="0.6"/>
<circle cx="676.08" cy="117.37" r="3.0" fill="#4682b4" stroke="#fff" stroke-opacity="0.5" stroke-width="0.6"/>
<circle cx="678.41" cy="109.86" r="3.0" fill="#4682b4" stroke="#fff" stroke-opacity="0.5" stroke-width="0.6"/>
<circle cx="680.74" cy="173.80" r="3.0" fill="#4682b4" stroke="#fff" stroke-opacity="0.5" stroke-width="0.6"/>
<circle cx="694.46" cy="227.38" r="3.0" fill="#4682b4" stroke="#fff" stroke-opacity="0.5" stroke-width="0.6"/>
<circle cx="701.44" cy="234.89" r="3.0" fill="#4682b4" stroke="#fff" stroke-opacity="0.5" stroke-width="0.6"/>
<circle cx="708.43" cy="238.77" r="3.0" fill="#4682b4" stroke="#fff" stroke-opacity="0.5" stroke-width="0.6"/>
<circle cx="715.42" cy="242.40" r="3.0" fill="#4682b4" stroke="#fff" stroke-opacity="0.5" stroke-width="0.6"/>
<circle cx="722.41" cy="240.84" r="3.0" fill="#4682b4" stroke="#fff" stroke-opacity="0.5" stroke-width="0.6"/>
<circle cx="736.13" cy="242.14" r="3.0" fill="#4682b4" stroke="#fff" stroke-opacity="0.5" stroke-width="0.6"/>
<circle cx="750.37" cy="244.21" r="3.0" fill="#4682b4" stroke="#fff" stroke-opacity="0.5" stroke-width="0.6"/>
<circle cx="777.81" cy="244.73" r="3.0" fill="#4682b4" stroke="#fff" stroke-opacity="0.5" stroke-width="0.6"/>
<path d="M667.45,245.30L667.49,235.26L667.52,225.79L667.56,216.85L667.59,208.52L667.62,200.57L667.66,192.59L667.69,184.26L667.73,176.02L667.76,168.42L667.79,160.68L667.83,153.33L667.86,147.69L667.90,144.51L667.93,142.13L667.96,140.07L668.00,138.27L668.03,136.69L668.06,135.30L668.10,134.07L668.13,132.96L668.17,131.96L668.20,131.03L668.23,130.17L668.27,129.36L668.30,128.58L668.34,127.82L668.37,127.08L668.40,126.33L668.44,125.58L668.47,124.81L668.51,124.03L668.54,123.22L668.57,122.37L668.61,121.50L668.64,120.62L668.67,119.75L668.71,118.89L668.74,118.04L668.78,117.20L668.81,116.37L668.84,115.55L668.88,114.74L668.91,113.94L668.95,113.16L668.98,112.39L669.01,111.63L669.05,110.88L669.08,110.15L669.12,109.43L669.15,108.73L669.18,108.04L669.22,107.36L669.25,106.69L669.29,106.04L669.32,105.40L669.35,104.78L669.39,104.17L669.42,103.57L669.45,102.99L669.50,102.15L669.96,95.50L670.42,89.24L670.88,84.60L671.34,82.46L671.80,82.79L672.25,84.48L672.71,86.96L673.17,89.87L673.63,93.00L674.09,96.18L674.55,99.30L675.00,102.81L675.46,107.39L675.92,112.38L676.38,117.27L676.84,121.85L677.30,126.44L677.75,131.04L678.21,135.62L678.67,140.19L679.13,144.78L679.59,149.37L680.05,153.96L680.50,158.59L680.96,163.45L681.42,168.21L681.88,172.59L682.34,176.37L682.80,179.75L683.25,182.86L683.71,185.80L684.17,188.64L684.63,191.45L685.09,194.31L685.55,197.25L686.00,200.19L686.46,203.03L686.92,205.69L687.38,208.09L687.84,210.17L688.30,211.97L688.75,213.56L689.21,215.03L689.67,216.42L690.13,217.76L690.59,219.02L691.05,220.23L691.50,221.37L691.96,222.47L692.42,223.53L692.88,224.56L693.34,225.56L693.80,226.52L694.25,227.44L694.71,228.31L695.17,229.11L695.63,229.86L696.09,230.56L696.55,231.23L697.00,231.87L697.46,232.47L697.92,233.03L698.38,233.56L698.84,234.05L699.30,234.50L699.75,234.93L700.21,235.33L700.67,235.71L701.13,236.07L701.59,236.41L702.05,236.73L702.50,237.03L702.96,237.32L703.42,237.59L703.88,237.84L704.34,238.09L704.80,238.32L705.25,238.54L705.71,238.76L706.17,238.96L706.63,239.15L707.09,239.33L707.55,239.50L708.00,239.66L708.46,239.81L708.92,239.95L709.38,240.08L709.84,240.21L710.30,240.34L710.75,240.45L711.21,240.57L711.67,240.67L712.13,240.77L712.59,240.87L713.05,240.96L713.50,241.05L713.96,241.14L714.42,241.22L714.88,241.29L715.34,241.37L715.80,241.44L716.25,241.50L716.71,241.57L717.17,241.63L717.63,241.69L718.09,241.76L718.55,241.82L719.00,241.88L719.46,241.94L719.92,242.00L720.38,242.06L720.84,242.12L721.30,242.18L721.75,242.23L722.21,242.29L722.67,242.34L723.13,242.39L723.59,242.44L724.05,242.48L724.50,242.53L724.96,242.57L725.42,242.61L725.88,242.65L726.34,242.68L726.80,242.72L727.25,242.75L727.71,242.79L728.17,242.82L728.63,242.86L729.09,242.89L729.55,242.93L730.00,242.96L730.46,242.99L730.92,243.03L731.38,243.06L731.84,243.09L732.30,243.12L732.75,243.16L733.21,243.19L733.67,243.22L734.13,243.25L734.59,243.28L735.05,243.31L735.50,243.34L735.96,243.37L736.42,243.39L736.88,243.42L737.34,243.45L737.80,243.48L738.25,243.50L738.71,243.53L739.17,243.56L739.63,243.58L740.09,243.61L740.55,243.64L741.00,243.66L741.46,243.69L741.92,243.72L742.38,243.75L742.84,243.78L743.30,243.81L743.75,243.83L744.21,243.86L744.67,243.88L745.13,243.91L745.59,243.93L746.05,243.95L746.50,243.97L746.96,243.98L747.42,243.99L747.88,244.01L748.34,244.02L748.80,244.03L749.25,244.04L749.71,244.05L750.17,244.06L750.63,244.07L751.09,244.08L751.55,244.08L752.00,244.09L752.46,244.10L752.92,244.11L753.38,244.11L753.84,244.12L754.30,244.13L754.75,244.13L755.21,244.14L755.67,244.15L756.13,244.16L756.59,244.16L757.05,244.17L757.50,244.18L757.96,244.18L758.42,244.19L758.88,244.20L759.34,244.21L759.80,244.22L760.25,244.22L760.71,244.23L761.17,244.24L761.63,244.25L762.09,244.26L762.55,244.27L763.00,244.27L763.46,244.28L763.92,244.29L764.38,244.30L764.84,244.31L765.30,244.32L765.75,244.32L766.21,244.33L766.67,244.34L767.13,244.35L767.59,244.36L768.05,244.36L768.50,244.37L768.96,244.38L769.42,244.39L769.88,244.40L770.34,244.40L770.80,244.41L771.25,244.42L771.71,244.43L772.17,244.44L772.63,244.44L773.09,244.45L773.55,244.46L774.00,244.47L774.46,244.48L774.92,244.48L775.38,244.49L775.84,244.50L776.30,244.51L776.75,244.51L777.21,244.52L777.67,244.53L778.13,244.54L778.59,244.55L779.05,244.55L779.50,244.56L779.96,244.57L780.42,244.58L780.88,244.58L781.34,244.59L781.80,244.60L782.25,244.61L782.71,244.61L783.17,244.62L783.63,244.63L784.09,244.64L784.55,244.64L785.00,244.65L785.46,244.66L785.92,244.67L786.38,244.67L786.84,244.68L787.30,244.69L787.75,244.70L788.21,244.70L788.67,244.71L789.13,244.72L789.59,244.73L790.05,244.73L790.50,244.74L790.96,244.75L791.42,244.76L791.88,244.76L792.34,244.77L792.80,244.78L793.25,244.79L793.71,244.79L794.17,244.80L794.63,244.81L795.09,244.82L795.55,244.82L796.00,244.83L796.46,244.84L796.92,244.84L797.38,244.85L797.84,244.86L798.30,244.87L798.75,244.87L799.21,244.88L799.67,244.89L800.13,244.89L800.59,244.90L801.05,244.91L801.50,244.92L801.96,244.92L802.42,244.93L802.88,244.94L803.34,244.94L803.80,244.95L804.25,244.96L804.71,244.97L805.17,244.97L805.63,244.98L806.09,244.99L806.55,244.99" stroke="#b98bce" stroke-width="2" fill="none" stroke-linejoin="round"/>
<rect x="52" y="304" width="152" height="178" fill="#fbfbfe"/>
<text x="127.50" y="290" font-family="Liberation Serif" font-size="13.5" text-anchor="middle" fill="#000">5</text>
<path d="M44.5,304.5H50.5V483.5H44.5" stroke="#555" fill="none" stroke-width="1"/>
<line x1="47.5" y1="350.5" x2="50.5" y2="350.5" stroke="#555"/>
<text x="44.2" y="353.88" font-family="Liberation Sans" font-size="9.5" text-anchor="end" fill="#555">20</text>
<line x1="47.5" y1="412.5" x2="50.5" y2="412.5" stroke="#555"/>
<text x="44.2" y="416.26" font-family="Liberation Sans" font-size="9.5" text-anchor="end" fill="#555">10</text>
<line x1="47.5" y1="475.5" x2="50.5" y2="475.5" stroke="#555"/>
<text x="44.2" y="478.65" font-family="Liberation Sans" font-size="9.5" text-anchor="end" fill="#555">0</text>
<path d="M50.5,489.5V483.5H203.5V489.5" stroke="#555" fill="none" stroke-width="1"/>
<line x1="57.5" y1="483.5" x2="57.5" y2="486.5" stroke="#555"/>
<text x="57.45" y="496.0" font-family="Liberation Sans" font-size="9.5" text-anchor="middle" fill="#555">0</text>
<line x1="115.5" y1="483.5" x2="115.5" y2="486.5" stroke="#555"/>
<text x="115.41" y="496.0" font-family="Liberation Sans" font-size="9.5" text-anchor="middle" fill="#555">50</text>
<line x1="173.5" y1="483.5" x2="173.5" y2="486.5" stroke="#555"/>
<text x="173.36" y="496.0" font-family="Liberation Sans" font-size="9.5" text-anchor="middle" fill="#555">100</text>
<circle cx="57.79" cy="407.17" r="3.0" fill="#4682b4" stroke="#fff" stroke-opacity="0.5" stroke-width="0.6"/>
<circle cx="58.83" cy="376.10" r="3.0" fill="#4682b4" stroke="#fff" stroke-opacity="0.5" stroke-width="0.6"/>
<circle cx="61.42" cy="311.65" r="3.0" fill="#4682b4" stroke="#fff" stroke-opacity="0.5" stroke-width="0.6"/>
<circle cx="64.01" cy="324.07" r="3.0" fill="#4682b4" stroke="#fff" stroke-opacity="0.5" stroke-width="0.6"/>
<circle cx="66.08" cy="319.41" r="3.0" fill="#4682b4" stroke="#fff" stroke-opacity="0.5" stroke-width="0.6"/>
<circle cx="68.41" cy="357.21" r="3.0" fill="#4682b4" stroke="#fff" stroke-opacity="0.5" stroke-width="0.6"/>
<circle cx="70.99" cy="387.23" r="3.0" fill="#4682b4" stroke="#fff" stroke-opacity="0.5" stroke-width="0.6"/>
<circle cx="84.71" cy="450.65" r="3.0" fill="#4682b4" stroke="#fff" stroke-opacity="0.5" stroke-width="0.6"/>
<circle cx="91.70" cy="461.53" r="3.0" fill="#4682b4" stroke="#fff" stroke-opacity="0.5" stroke-width="0.6"/>
<circle cx="98.69" cy="466.19" r="3.0" fill="#4682b4" stroke="#fff" stroke-opacity="0.5" stroke-width="0.6"/>
<circle cx="105.68" cy="469.81" r="3.0" fill="#4682b4" stroke="#fff" stroke-opacity="0.5" stroke-width="0.6"/>
<circle cx="112.41" cy="472.92" r="3.0" fill="#4682b4" stroke="#fff" stroke-opacity="0.5" stroke-width="0.6"/>
<circle cx="126.39" cy="473.43" r="3.0" fill="#4682b4" stroke="#fff" stroke-opacity="0.5" stroke-width="0.6"/>
<path d="M57.45,475.25L57.49,465.23L57.52,455.78L57.56,446.85L57.59,437.81L57.62,429.37L57.66,422.86L57.69,417.82L57.73,413.40L57.76,409.55L57.79,406.19L57.83,403.29L57.86,400.78L57.90,398.63L57.93,396.71L57.96,394.97L58.00,393.39L58.03,391.94L58.06,390.60L58.10,389.36L58.13,388.21L58.17,387.12L58.20,386.08L58.23,385.10L58.27,384.15L58.30,383.23L58.34,382.33L58.37,381.45L58.40,380.58L58.44,379.72L58.47,378.86L58.51,378.00L58.54,377.13L58.57,376.26L58.61,375.38L58.64,374.51L58.67,373.66L58.71,372.82L58.74,372.00L58.78,371.19L58.81,370.40L58.84,369.62L58.88,368.86L58.91,368.10L58.95,367.36L58.98,366.63L59.01,365.91L59.05,365.21L59.08,364.51L59.12,363.82L59.15,363.14L59.18,362.47L59.22,361.81L59.25,361.16L59.29,360.52L59.32,359.89L59.35,359.26L59.39,358.64L59.42,358.03L59.45,357.42L59.50,356.54L59.96,349.00L60.42,341.95L60.88,336.07L61.34,331.66L61.80,327.64L62.25,324.45L62.71,322.78L63.17,323.34L63.63,326.45L64.09,329.96L64.55,333.25L65.00,336.78L65.46,340.40L65.92,344.04L66.38,347.60L66.84,351.08L67.30,354.56L67.75,358.06L68.21,361.60L68.67,365.17L69.13,368.82L69.59,372.69L70.05,376.67L70.50,380.58L70.96,384.29L71.42,387.72L71.88,390.99L72.34,394.12L72.80,397.15L73.25,400.08L73.71,402.94L74.17,405.74L74.63,408.52L75.09,411.25L75.55,413.91L76.00,416.46L76.46,418.91L76.92,421.21L77.38,423.38L77.84,425.40L78.30,427.30L78.75,429.11L79.21,430.85L79.67,432.53L80.13,434.18L80.59,435.80L81.05,437.41L81.50,439.03L81.96,440.66L82.42,442.36L82.88,444.05L83.34,445.66L83.80,447.12L84.25,448.42L84.71,449.63L85.17,450.77L85.63,451.84L86.09,452.85L86.55,453.80L87.00,454.71L87.46,455.57L87.92,456.39L88.38,457.18L88.84,457.92L89.30,458.63L89.75,459.31L90.21,459.94L90.67,460.54L91.13,461.10L91.59,461.63L92.05,462.14L92.50,462.62L92.96,463.09L93.42,463.53L93.88,463.95L94.34,464.35L94.80,464.74L95.25,465.12L95.71,465.48L96.17,465.83L96.63,466.16L97.09,466.48L97.55,466.79L98.00,467.09L98.46,467.37L98.92,467.65L99.38,467.92L99.84,468.18L100.30,468.44L100.75,468.69L101.21,468.94L101.67,469.17L102.13,469.39L102.59,469.60L103.05,469.80L103.50,469.98L103.96,470.16L104.42,470.32L104.88,470.48L105.34,470.63L105.80,470.78L106.25,470.92L106.71,471.05L107.17,471.18L107.63,471.30L108.09,471.42L108.55,471.52L109.00,471.62L109.46,471.72L109.92,471.81L110.38,471.90L110.84,471.99L111.30,472.07L111.75,472.15L112.21,472.22L112.67,472.29L113.13,472.36L113.59,472.42L114.05,472.48L114.50,472.54L114.96,472.59L115.42,472.64L115.88,472.69L116.34,472.74L116.80,472.78L117.25,472.83L117.71,472.87L118.17,472.91L118.63,472.95L119.09,472.99L119.55,473.03L120.00,473.07L120.46,473.11L120.92,473.15L121.38,473.19L121.84,473.23L122.30,473.27L122.75,473.30L123.21,473.34L123.67,473.37L124.13,473.41L124.59,473.44L125.05,473.47L125.50,473.50L125.96,473.53L126.42,473.56L126.88,473.59L127.34,473.61L127.80,473.64L128.25,473.67L128.71,473.69L129.17,473.72L129.63,473.74L130.09,473.77L130.55,473.79L131.00,473.82L131.46,473.85L131.92,473.88L132.38,473.91L132.84,473.94L133.30,473.96L133.75,473.99L134.21,474.01L134.67,474.03L135.13,474.05L135.59,474.07L136.05,474.08L136.50,474.09L136.96,474.09L137.42,474.09L137.88,474.09L138.34,474.09L138.80,474.09L139.25,474.09L139.71,474.09L140.17,474.09L140.63,474.09L141.09,474.09L141.55,474.09L142.00,474.09L142.46,474.09L142.92,474.09L143.38,474.09L143.84,474.09L144.30,474.09L144.75,474.09L145.21,474.09L145.67,474.09L146.13,474.09L146.59,474.09L147.05,474.09L147.50,474.09L147.96,474.09L148.42,474.09L148.88,474.09L149.34,474.09L149.80,474.09L150.25,474.09L150.71,474.09L151.17,474.09L151.63,474.09L152.09,474.09L152.55,474.09L153.00,474.09L153.46,474.09L153.92,474.09L154.38,474.09L154.84,474.09L155.30,474.09L155.75,474.09L156.21,474.09L156.67,474.09L157.13,474.09L157.59,474.09L158.05,474.09L158.50,474.09L158.96,474.09L159.42,474.09L159.88,474.09L160.34,474.09L160.80,474.09L161.25,474.09L161.71,474.09L162.17,474.09L162.63,474.09L163.09,474.09L163.55,474.09L164.00,474.09L164.46,474.09L164.92,474.09L165.38,474.09L165.84,474.09L166.30,474.09L166.75,474.09L167.21,474.09L167.67,474.09L168.13,474.10L168.59,474.11L169.05,474.11L169.50,474.12L169.96,474.13L170.42,474.14L170.88,474.14L171.34,474.15L171.80,474.16L172.25,474.17L172.71,474.17L173.17,474.18L173.63,474.19L174.09,474.20L174.55,474.21L175.00,474.22L175.46,474.23L175.92,474.23L176.38,474.24L176.84,474.25L177.30,474.26L177.75,474.27L178.21,474.28L178.67,474.29L179.13,474.30L179.59,474.31L180.05,474.32L180.50,474.33L180.96,474.34L181.42,474.35L181.88,474.36L182.34,474.37L182.80,474.38L183.25,474.39L183.71,474.40L184.17,474.41L184.63,474.43L185.09,474.44L185.55,474.45L186.00,474.46L186.46,474.47L186.92,474.48L187.38,474.49L187.84,474.50L188.30,474.52L188.75,474.53L189.21,474.54L189.67,474.55L190.13,474.56L190.59,474.58L191.05,474.59L191.50,474.60L191.96,474.61L192.42,474.63L192.88,474.64L193.34,474.65L193.80,474.66L194.25,474.68L194.71,474.69L195.17,474.70L195.63,474.72L196.09,474.73L196.55,474.74" stroke="#b98bce" stroke-width="2" fill="none" stroke-linejoin="round"/>
<rect x="255" y="304" width="152" height="178" fill="#fbfbfe"/>
<text x="330.50" y="290" font-family="Liberation Serif" font-size="13.5" text-anchor="middle" fill="#000">6</text>
<path d="M247.5,304.5H253.5V483.5H247.5" stroke="#555" fill="none" stroke-width="1"/>
<line x1="250.5" y1="310.5" x2="253.5" y2="310.5" stroke="#555"/>
<text x="247.2" y="313.70" font-family="Liberation Sans" font-size="9.5" text-anchor="end" fill="#555">30</text>
<line x1="250.5" y1="365.5" x2="253.5" y2="365.5" stroke="#555"/>
<text x="247.2" y="368.66" font-family="Liberation Sans" font-size="9.5" text-anchor="end" fill="#555">20</text>
<line x1="250.5" y1="420.5" x2="253.5" y2="420.5" stroke="#555"/>
<text x="247.2" y="423.61" font-family="Liberation Sans" font-size="9.5" text-anchor="end" fill="#555">10</text>
<line x1="250.5" y1="475.5" x2="253.5" y2="475.5" stroke="#555"/>
<text x="247.2" y="478.57" font-family="Liberation Sans" font-size="9.5" text-anchor="end" fill="#555">0</text>
<path d="M253.5,489.5V483.5H406.5V489.5" stroke="#555" fill="none" stroke-width="1"/>
<line x1="260.5" y1="483.5" x2="260.5" y2="486.5" stroke="#555"/>
<text x="260.45" y="496.0" font-family="Liberation Sans" font-size="9.5" text-anchor="middle" fill="#555">0</text>
<line x1="318.5" y1="483.5" x2="318.5" y2="486.5" stroke="#555"/>
<text x="318.41" y="496.0" font-family="Liberation Sans" font-size="9.5" text-anchor="middle" fill="#555">50</text>
<line x1="376.5" y1="483.5" x2="376.5" y2="486.5" stroke="#555"/>
<text x="376.36" y="496.0" font-family="Liberation Sans" font-size="9.5" text-anchor="middle" fill="#555">100</text>
<circle cx="261.05" cy="406.65" r="3.0" fill="#4682b4" stroke="#fff" stroke-opacity="0.5" stroke-width="0.6"/>
<circle cx="262.09" cy="351.25" r="3.0" fill="#4682b4" stroke="#fff" stroke-opacity="0.5" stroke-width="0.6"/>
<circle cx="264.42" cy="311.65" r="3.0" fill="#4682b4" stroke="#fff" stroke-opacity="0.5" stroke-width="0.6"/>
<circle cx="265.97" cy="312.94" r="3.0" fill="#4682b4" stroke="#fff" stroke-opacity="0.5" stroke-width="0.6"/>
<circle cx="267.52" cy="313.98" r="3.0" fill="#4682b4" stroke="#fff" stroke-opacity="0.5" stroke-width="0.6"/>
<circle cx="269.08" cy="352.81" r="3.0" fill="#4682b4" stroke="#fff" stroke-opacity="0.5" stroke-width="0.6"/>
<circle cx="271.41" cy="360.31" r="3.0" fill="#4682b4" stroke="#fff" stroke-opacity="0.5" stroke-width="0.6"/>
<circle cx="273.99" cy="355.40" r="3.0" fill="#4682b4" stroke="#fff" stroke-opacity="0.5" stroke-width="0.6"/>
<circle cx="287.71" cy="452.72" r="3.0" fill="#4682b4" stroke="#fff" stroke-opacity="0.5" stroke-width="0.6"/>
<circle cx="294.70" cy="461.01" r="3.0" fill="#4682b4" stroke="#fff" stroke-opacity="0.5" stroke-width="0.6"/>
<circle cx="301.69" cy="465.67" r="3.0" fill="#4682b4" stroke="#fff" stroke-opacity="0.5" stroke-width="0.6"/>
<circle cx="308.68" cy="468.77" r="3.0" fill="#4682b4" stroke="#fff" stroke-opacity="0.5" stroke-width="0.6"/>
<circle cx="315.67" cy="471.36" r="3.0" fill="#4682b4" stroke="#fff" stroke-opacity="0.5" stroke-width="0.6"/>
<circle cx="329.65" cy="470.33" r="3.0" fill="#4682b4" stroke="#fff" stroke-opacity="0.5" stroke-width="0.6"/>
<circle cx="343.63" cy="473.69" r="3.0" fill="#4682b4" stroke="#fff" stroke-opacity="0.5" stroke-width="0.6"/>
<path d="M260.45,475.17L260.49,465.19L260.52,455.77L260.56,446.85L260.59,437.81L260.62,429.37L260.66,422.86L260.69,417.90L260.73,413.65L260.76,409.94L260.79,406.66L260.83,403.71L260.86,400.99L260.90,398.45L260.93,396.09L260.96,393.89L261.00,391.85L261.03,389.94L261.06,388.14L261.10,386.44L261.13,384.83L261.17,383.29L261.20,381.82L261.23,380.41L261.27,379.05L261.30,377.74L261.34,376.46L261.37,375.22L261.40,374.02L261.44,372.87L261.47,371.77L261.51,370.70L261.54,369.67L261.57,368.67L261.61,367.70L261.64,366.76L261.67,365.85L261.71,364.96L261.74,364.09L261.78,363.25L261.81,362.43L261.84,361.62L261.88,360.83L261.91,360.06L261.95,359.30L261.98,358.55L262.01,357.82L262.05,357.10L262.08,356.39L262.12,355.69L262.15,354.99L262.18,354.31L262.22,353.64L262.25,352.97L262.29,352.31L262.32,351.66L262.35,351.00L262.39,350.35L262.42,349.70L262.45,349.06L262.50,348.11L262.96,340.02L263.42,333.48L263.88,328.72L264.34,325.23L264.80,322.11L265.25,319.73L265.71,318.29L266.17,317.86L266.63,318.79L267.09,320.85L267.55,323.51L268.00,326.41L268.46,329.28L268.92,332.31L269.38,336.05L269.84,340.14L270.30,344.25L270.75,348.13L271.21,351.75L271.67,355.30L272.13,358.81L272.59,362.30L273.05,365.79L273.50,369.30L273.96,372.86L274.42,376.44L274.88,379.98L275.34,383.47L275.80,386.89L276.25,390.27L276.71,393.62L277.17,396.91L277.63,400.14L278.09,403.29L278.55,406.34L279.00,409.33L279.46,412.24L279.92,415.10L280.38,417.91L280.84,420.68L281.30,423.40L281.75,426.20L282.21,429.04L282.67,431.84L283.13,434.51L283.59,436.97L284.05,439.15L284.50,441.00L284.96,442.62L285.42,444.07L285.88,445.42L286.34,446.70L286.80,447.90L287.25,449.03L287.71,450.07L288.17,451.05L288.63,451.97L289.09,452.83L289.55,453.64L290.00,454.42L290.46,455.15L290.92,455.86L291.38,456.54L291.84,457.20L292.30,457.83L292.75,458.43L293.21,458.98L293.67,459.50L294.13,459.98L294.59,460.42L295.05,460.84L295.50,461.23L295.96,461.61L296.42,461.97L296.88,462.33L297.34,462.69L297.80,463.05L298.25,463.40L298.71,463.75L299.17,464.09L299.63,464.43L300.09,464.75L300.55,465.05L301.00,465.34L301.46,465.62L301.92,465.88L302.38,466.13L302.84,466.37L303.30,466.60L303.75,466.83L304.21,467.04L304.67,467.25L305.13,467.46L305.59,467.65L306.05,467.85L306.50,468.03L306.96,468.22L307.42,468.39L307.88,468.56L308.34,468.73L308.80,468.89L309.25,469.05L309.71,469.20L310.17,469.34L310.63,469.48L311.09,469.62L311.55,469.76L312.00,469.89L312.46,470.01L312.92,470.13L313.38,470.25L313.84,470.37L314.30,470.48L314.75,470.59L315.21,470.69L315.67,470.80L316.13,470.90L316.59,470.99L317.05,471.09L317.50,471.18L317.96,471.27L318.42,471.35L318.88,471.44L319.34,471.51L319.80,471.59L320.25,471.66L320.71,471.73L321.17,471.79L321.63,471.86L322.09,471.92L322.55,471.98L323.00,472.03L323.46,472.09L323.92,472.14L324.38,472.20L324.84,472.25L325.30,472.30L325.75,472.35L326.21,472.40L326.67,472.45L327.13,472.50L327.59,472.55L328.05,472.59L328.50,472.64L328.96,472.68L329.42,472.73L329.88,472.77L330.34,472.81L330.80,472.84L331.25,472.88L331.71,472.91L332.17,472.95L332.63,472.98L333.09,473.01L333.55,473.04L334.00,473.07L334.46,473.10L334.92,473.13L335.38,473.16L335.84,473.19L336.30,473.22L336.75,473.25L337.21,473.28L337.67,473.31L338.13,473.33L338.59,473.36L339.05,473.39L339.50,473.42L339.96,473.45L340.42,473.48L340.88,473.51L341.34,473.54L341.80,473.57L342.25,473.60L342.71,473.64L343.17,473.67L343.63,473.70L344.09,473.74L344.55,473.77L345.00,473.80L345.46,473.83L345.92,473.86L346.38,473.89L346.84,473.93L347.30,473.95L347.75,473.98L348.21,474.01L348.67,474.04L349.13,474.06L349.59,474.09L350.05,474.11L350.50,474.13L350.96,474.15L351.42,474.17L351.88,474.19L352.34,474.21L352.80,474.22L353.25,474.24L353.71,474.25L354.17,474.27L354.63,474.28L355.09,474.29L355.55,474.31L356.00,474.32L356.46,474.34L356.92,474.35L357.38,474.36L357.84,474.38L358.30,474.39L358.75,474.40L359.21,474.42L359.67,474.43L360.13,474.44L360.59,474.46L361.05,474.47L361.50,474.48L361.96,474.49L362.42,474.51L362.88,474.52L363.34,474.53L363.80,474.54L364.25,474.55L364.71,474.56L365.17,474.58L365.63,474.59L366.09,474.60L366.55,474.61L367.00,474.62L367.46,474.63L367.92,474.64L368.38,474.65L368.84,474.66L369.30,474.67L369.75,474.68L370.21,474.69L370.67,474.70L371.13,474.71L371.59,474.72L372.05,474.73L372.50,474.74L372.96,474.74L373.42,474.75L373.88,474.76L374.34,474.77L374.80,474.78L375.25,474.79L375.71,474.79L376.17,474.80L376.63,474.81L377.09,474.82L377.55,474.82L378.00,474.83L378.46,474.84L378.92,474.84L379.38,474.85L379.84,474.86L380.30,474.86L380.75,474.87L381.21,474.87L381.67,474.88L382.13,474.89L382.59,474.89L383.05,474.90L383.50,474.90L383.96,474.91L384.42,474.91L384.88,474.92L385.34,474.92L385.80,474.93L386.25,474.93L386.71,474.93L387.17,474.94L387.63,474.94L388.09,474.94L388.55,474.95L389.00,474.95L389.46,474.95L389.92,474.96L390.38,474.96L390.84,474.96L391.30,474.97L391.75,474.97L392.21,474.97L392.67,474.97L393.13,474.97L393.59,474.98L394.05,474.98L394.50,474.98L394.96,474.98L395.42,474.98L395.88,474.98L396.34,474.98L396.80,474.98L397.25,474.99L397.71,474.99L398.17,474.99L398.63,474.99L399.09,474.99L399.55,474.99" stroke="#b98bce" stroke-width="2" fill="none" stroke-linejoin="round"/>
<rect x="458" y="304" width="153" height="178" fill="#fbfbfe"/>
<text x="534.00" y="290" font-family="Liberation Serif" font-size="13.5" text-anchor="middle" fill="#000">7</text>
<path d="M450.5,304.5H456.5V483.5H450.5" stroke="#555" fill="none" stroke-width="1"/>
<line x1="453.5" y1="313.5" x2="456.5" y2="313.5" stroke="#555"/>
<text x="450.2" y="316.49" font-family="Liberation Sans" font-size="9.5" text-anchor="end" fill="#555">25</text>
<line x1="453.5" y1="345.5" x2="456.5" y2="345.5" stroke="#555"/>
<text x="450.2" y="348.94" font-family="Liberation Sans" font-size="9.5" text-anchor="end" fill="#555">20</text>
<line x1="453.5" y1="377.5" x2="456.5" y2="377.5" stroke="#555"/>
<text x="450.2" y="381.40" font-family="Liberation Sans" font-size="9.5" text-anchor="end" fill="#555">15</text>
<line x1="453.5" y1="410.5" x2="456.5" y2="410.5" stroke="#555"/>
<text x="450.2" y="413.85" font-family="Liberation Sans" font-size="9.5" text-anchor="end" fill="#555">10</text>
<line x1="453.5" y1="442.5" x2="456.5" y2="442.5" stroke="#555"/>
<text x="450.2" y="446.30" font-family="Liberation Sans" font-size="9.5" text-anchor="end" fill="#555">5</text>
<line x1="453.5" y1="475.5" x2="456.5" y2="475.5" stroke="#555"/>
<text x="450.2" y="478.76" font-family="Liberation Sans" font-size="9.5" text-anchor="end" fill="#555">0</text>
<path d="M456.5,489.5V483.5H610.5V489.5" stroke="#555" fill="none" stroke-width="1"/>
<line x1="463.5" y1="483.5" x2="463.5" y2="486.5" stroke="#555"/>
<text x="463.50" y="496.0" font-family="Liberation Sans" font-size="9.5" text-anchor="middle" fill="#555">0</text>
<line x1="521.5" y1="483.5" x2="521.5" y2="486.5" stroke="#555"/>
<text x="521.83" y="496.0" font-family="Liberation Sans" font-size="9.5" text-anchor="middle" fill="#555">50</text>
<line x1="580.5" y1="483.5" x2="580.5" y2="486.5" stroke="#555"/>
<text x="580.17" y="496.0" font-family="Liberation Sans" font-size="9.5" text-anchor="middle" fill="#555">100</text>
<circle cx="464.31" cy="415.97" r="3.0" fill="#4682b4" stroke="#fff" stroke-opacity="0.5" stroke-width="0.6"/>
<circle cx="465.35" cy="350.22" r="3.0" fill="#4682b4" stroke="#fff" stroke-opacity="0.5" stroke-width="0.6"/>
<circle cx="467.93" cy="320.71" r="3.0" fill="#4682b4" stroke="#fff" stroke-opacity="0.5" stroke-width="0.6"/>
<circle cx="470.26" cy="311.65" r="3.0" fill="#4682b4" stroke="#fff" stroke-opacity="0.5" stroke-width="0.6"/>
<circle cx="472.59" cy="350.22" r="3.0" fill="#4682b4" stroke="#fff" stroke-opacity="0.5" stroke-width="0.6"/>
<circle cx="474.66" cy="367.82" r="3.0" fill="#4682b4" stroke="#fff" stroke-opacity="0.5" stroke-width="0.6"/>
<circle cx="477.25" cy="380.25" r="3.0" fill="#4682b4" stroke="#fff" stroke-opacity="0.5" stroke-width="0.6"/>
<circle cx="490.97" cy="451.43" r="3.0" fill="#4682b4" stroke="#fff" stroke-opacity="0.5" stroke-width="0.6"/>
<circle cx="497.96" cy="456.87" r="3.0" fill="#4682b4" stroke="#fff" stroke-opacity="0.5" stroke-width="0.6"/>
<circle cx="504.95" cy="464.11" r="3.0" fill="#4682b4" stroke="#fff" stroke-opacity="0.5" stroke-width="0.6"/>
<circle cx="511.94" cy="467.74" r="3.0" fill="#4682b4" stroke="#fff" stroke-opacity="0.5" stroke-width="0.6"/>
<circle cx="518.93" cy="469.81" r="3.0" fill="#4682b4" stroke="#fff" stroke-opacity="0.5" stroke-width="0.6"/>
<circle cx="532.91" cy="472.40" r="3.0" fill="#4682b4" stroke="#fff" stroke-opacity="0.5" stroke-width="0.6"/>
<circle cx="546.89" cy="473.69" r="3.0" fill="#4682b4" stroke="#fff" stroke-opacity="0.5" stroke-width="0.6"/>
<path d="M463.50,475.36L463.53,463.62L463.57,453.83L463.60,447.02L463.64,442.40L463.67,438.66L463.70,435.55L463.74,432.89L463.77,430.51L463.81,428.28L463.84,426.11L463.87,423.91L463.91,421.70L463.94,419.61L463.97,417.62L464.01,415.73L464.04,413.91L464.08,412.17L464.11,410.50L464.14,408.88L464.18,407.30L464.21,405.77L464.25,404.28L464.28,402.81L464.31,401.38L464.35,399.97L464.38,398.58L464.42,397.23L464.45,395.92L464.48,394.64L464.52,393.39L464.55,392.17L464.58,390.98L464.62,389.80L464.65,388.65L464.69,387.52L464.72,386.41L464.75,385.32L464.79,384.24L464.82,383.18L464.86,382.13L464.89,381.10L464.92,380.07L464.96,379.06L464.99,378.06L465.03,377.07L465.06,376.08L465.09,375.11L465.13,374.12L465.16,373.13L465.19,372.14L465.23,371.15L465.26,370.17L465.30,369.18L465.33,368.21L465.36,367.24L465.40,366.29L465.43,365.35L465.47,364.42L465.50,363.50L465.55,362.18L466.01,352.08L466.47,345.01L466.93,339.52L467.40,335.51L467.86,332.37L468.32,329.60L468.78,327.64L469.24,326.73L469.70,329.84L470.16,333.19L470.63,335.86L471.09,338.18L471.55,340.38L472.01,342.63L472.47,345.06L472.93,347.74L473.39,350.90L473.85,354.75L474.32,358.88L474.78,362.97L475.24,366.73L475.70,370.09L476.16,373.25L476.62,376.29L477.08,379.27L477.55,382.24L478.01,385.25L478.47,388.32L478.93,391.46L479.39,394.60L479.85,397.72L480.31,400.77L480.78,403.74L481.24,406.65L481.70,409.61L482.16,412.53L482.62,415.37L483.08,418.06L483.54,420.56L484.00,422.83L484.47,424.90L484.93,426.85L485.39,428.70L485.85,430.45L486.31,432.11L486.77,433.70L487.23,435.21L487.70,436.66L488.16,438.04L488.62,439.38L489.08,440.65L489.54,441.85L490.00,442.98L490.46,444.06L490.93,445.11L491.39,446.13L491.85,447.14L492.31,448.12L492.77,449.08L493.23,450.01L493.69,450.92L494.16,451.79L494.62,452.63L495.08,453.44L495.54,454.25L496.00,455.03L496.46,455.79L496.92,456.52L497.38,457.21L497.85,457.87L498.31,458.47L498.77,459.03L499.23,459.56L499.69,460.06L500.15,460.54L500.61,460.99L501.08,461.43L501.54,461.86L502.00,462.27L502.46,462.67L502.92,463.07L503.38,463.45L503.84,463.83L504.31,464.20L504.77,464.56L505.23,464.90L505.69,465.23L506.15,465.55L506.61,465.84L507.07,466.13L507.53,466.39L508.00,466.65L508.46,466.90L508.92,467.14L509.38,467.37L509.84,467.59L510.30,467.80L510.76,468.01L511.23,468.21L511.69,468.41L512.15,468.61L512.61,468.80L513.07,468.99L513.53,469.17L513.99,469.34L514.46,469.51L514.92,469.67L515.38,469.83L515.84,469.98L516.30,470.11L516.76,470.25L517.22,470.38L517.68,470.51L518.15,470.63L518.61,470.75L519.07,470.86L519.53,470.97L519.99,471.07L520.45,471.17L520.91,471.27L521.38,471.35L521.84,471.44L522.30,471.52L522.76,471.60L523.22,471.67L523.68,471.74L524.14,471.81L524.61,471.87L525.07,471.94L525.53,472.00L525.99,472.06L526.45,472.11L526.91,472.17L527.37,472.22L527.84,472.27L528.30,472.32L528.76,472.36L529.22,472.40L529.68,472.45L530.14,472.49L530.60,472.53L531.06,472.58L531.53,472.62L531.99,472.67L532.45,472.72L532.91,472.76L533.37,472.81L533.83,472.86L534.29,472.91L534.76,472.96L535.22,473.01L535.68,473.05L536.14,473.10L536.60,473.14L537.06,473.18L537.52,473.21L537.99,473.25L538.45,473.28L538.91,473.32L539.37,473.35L539.83,473.38L540.29,473.41L540.75,473.44L541.21,473.47L541.68,473.49L542.14,473.52L542.60,473.54L543.06,473.56L543.52,473.58L543.98,473.60L544.44,473.62L544.91,473.64L545.37,473.66L545.83,473.67L546.29,473.69L546.75,473.71L547.21,473.72L547.67,473.74L548.14,473.75L548.60,473.77L549.06,473.78L549.52,473.79L549.98,473.81L550.44,473.82L550.90,473.83L551.37,473.85L551.83,473.86L552.29,473.87L552.75,473.88L553.21,473.90L553.67,473.91L554.13,473.92L554.59,473.93L555.06,473.94L555.52,473.95L555.98,473.96L556.44,473.98L556.90,473.99L557.36,474.00L557.82,474.01L558.29,474.02L558.75,474.03L559.21,474.04L559.67,474.05L560.13,474.06L560.59,474.07L561.05,474.08L561.52,474.09L561.98,474.10L562.44,474.11L562.90,474.12L563.36,474.13L563.82,474.14L564.28,474.15L564.74,474.16L565.21,474.17L565.67,474.18L566.13,474.19L566.59,474.20L567.05,474.21L567.51,474.22L567.97,474.23L568.44,474.24L568.90,474.25L569.36,474.26L569.82,474.27L570.28,474.28L570.74,474.28L571.20,474.29L571.67,474.30L572.13,474.31L572.59,474.32L573.05,474.33L573.51,474.34L573.97,474.34L574.43,474.35L574.89,474.36L575.36,474.37L575.82,474.38L576.28,474.38L576.74,474.39L577.20,474.40L577.66,474.41L578.12,474.42L578.59,474.42L579.05,474.43L579.51,474.44L579.97,474.45L580.43,474.45L580.89,474.46L581.35,474.47L581.82,474.47L582.28,474.48L582.74,474.49L583.20,474.49L583.66,474.50L584.12,474.51L584.58,474.51L585.05,474.52L585.51,474.53L585.97,474.53L586.43,474.54L586.89,474.55L587.35,474.55L587.81,474.56L588.27,474.56L588.74,474.57L589.20,474.58L589.66,474.58L590.12,474.59L590.58,474.59L591.04,474.60L591.50,474.61L591.97,474.61L592.43,474.62L592.89,474.62L593.35,474.63L593.81,474.63L594.27,474.64L594.73,474.64L595.20,474.65L595.66,474.65L596.12,474.66L596.58,474.66L597.04,474.67L597.50,474.67L597.96,474.68L598.42,474.68L598.89,474.69L599.35,474.69L599.81,474.70L600.27,474.70L600.73,474.70L601.19,474.71L601.65,474.71L602.12,474.72L602.58,474.72L603.04,474.73L603.50,474.73" stroke="#b98bce" stroke-width="2" fill="none" stroke-linejoin="round"/>
<rect x="662" y="304" width="152" height="178" fill="#fbfbfe"/>
<text x="737.50" y="290" font-family="Liberation Serif" font-size="13.5" text-anchor="middle" fill="#000">8</text>
<path d="M654.5,304.5H660.5V483.5H654.5" stroke="#555" fill="none" stroke-width="1"/>
<line x1="657.5" y1="323.5" x2="660.5" y2="323.5" stroke="#555"/>
<text x="654.2" y="326.44" font-family="Liberation Sans" font-size="9.5" text-anchor="end" fill="#555">30</text>
<line x1="657.5" y1="373.5" x2="660.5" y2="373.5" stroke="#555"/>
<text x="654.2" y="377.17" font-family="Liberation Sans" font-size="9.5" text-anchor="end" fill="#555">20</text>
<line x1="657.5" y1="424.5" x2="660.5" y2="424.5" stroke="#555"/>
<text x="654.2" y="427.91" font-family="Liberation Sans" font-size="9.5" text-anchor="end" fill="#555">10</text>
<line x1="657.5" y1="475.5" x2="660.5" y2="475.5" stroke="#555"/>
<text x="654.2" y="478.65" font-family="Liberation Sans" font-size="9.5" text-anchor="end" fill="#555">0</text>
<path d="M660.5,489.5V483.5H813.5V489.5" stroke="#555" fill="none" stroke-width="1"/>
<line x1="667.5" y1="483.5" x2="667.5" y2="486.5" stroke="#555"/>
<text x="667.45" y="496.0" font-family="Liberation Sans" font-size="9.5" text-anchor="middle" fill="#555">0</text>
<line x1="725.5" y1="483.5" x2="725.5" y2="486.5" stroke="#555"/>
<text x="725.41" y="496.0" font-family="Liberation Sans" font-size="9.5" text-anchor="middle" fill="#555">50</text>
<line x1="783.5" y1="483.5" x2="783.5" y2="486.5" stroke="#555"/>
<text x="783.36" y="496.0" font-family="Liberation Sans" font-size="9.5" text-anchor="middle" fill="#555">100</text>
<circle cx="667.53" cy="412.60" r="3.0" fill="#4682b4" stroke="#fff" stroke-opacity="0.5" stroke-width="0.6"/>
<circle cx="668.83" cy="363.16" r="3.0" fill="#4682b4" stroke="#fff" stroke-opacity="0.5" stroke-width="0.6"/>
<circle cx="671.16" cy="317.34" r="3.0" fill="#4682b4" stroke="#fff" stroke-opacity="0.5" stroke-width="0.6"/>
<circle cx="673.49" cy="311.65" r="3.0" fill="#4682b4" stroke="#fff" stroke-opacity="0.5" stroke-width="0.6"/>
<circle cx="675.82" cy="319.67" r="3.0" fill="#4682b4" stroke="#fff" stroke-opacity="0.5" stroke-width="0.6"/>
<circle cx="678.15" cy="348.92" r="3.0" fill="#4682b4" stroke="#fff" stroke-opacity="0.5" stroke-width="0.6"/>
<circle cx="680.74" cy="391.89" r="3.0" fill="#4682b4" stroke="#fff" stroke-opacity="0.5" stroke-width="0.6"/>
<circle cx="694.46" cy="454.54" r="3.0" fill="#4682b4" stroke="#fff" stroke-opacity="0.5" stroke-width="0.6"/>
<circle cx="701.44" cy="464.11" r="3.0" fill="#4682b4" stroke="#fff" stroke-opacity="0.5" stroke-width="0.6"/>
<circle cx="708.43" cy="464.63" r="3.0" fill="#4682b4" stroke="#fff" stroke-opacity="0.5" stroke-width="0.6"/>
<circle cx="715.42" cy="466.96" r="3.0" fill="#4682b4" stroke="#fff" stroke-opacity="0.5" stroke-width="0.6"/>
<circle cx="722.41" cy="468.77" r="3.0" fill="#4682b4" stroke="#fff" stroke-opacity="0.5" stroke-width="0.6"/>
<circle cx="736.13" cy="471.88" r="3.0" fill="#4682b4" stroke="#fff" stroke-opacity="0.5" stroke-width="0.6"/>
<circle cx="750.11" cy="472.92" r="3.0" fill="#4682b4" stroke="#fff" stroke-opacity="0.5" stroke-width="0.6"/>
<circle cx="777.81" cy="473.69" r="3.0" fill="#4682b4" stroke="#fff" stroke-opacity="0.5" stroke-width="0.6"/>
<circle cx="805.76" cy="473.69" r="3.0" fill="#4682b4" stroke="#fff" stroke-opacity="0.5" stroke-width="0.6"/>
<path d="M667.45,475.25L667.49,465.23L667.52,455.78L667.56,446.85L667.59,438.52L667.62,430.57L667.66,422.58L667.69,413.41L667.73,404.67L667.76,398.89L667.79,395.08L667.83,391.85L667.86,389.09L667.90,386.70L667.93,384.62L667.96,382.76L668.00,381.06L668.03,379.49L668.06,377.99L668.10,376.53L668.13,375.09L668.17,373.74L668.20,372.48L668.23,371.30L668.27,370.19L668.30,369.15L668.34,368.16L668.37,367.22L668.40,366.32L668.44,365.46L668.47,364.63L668.51,363.83L668.54,363.05L668.57,362.29L668.61,361.55L668.64,360.82L668.67,360.10L668.71,359.39L668.74,358.68L668.78,357.98L668.81,357.28L668.84,356.58L668.88,355.88L668.91,355.18L668.95,354.48L668.98,353.77L669.01,353.06L669.05,352.34L669.08,351.61L669.12,350.87L669.15,350.11L669.18,349.33L669.22,348.55L669.25,347.76L669.29,346.97L669.32,346.18L669.35,345.39L669.39,344.60L669.42,343.82L669.45,343.05L669.50,341.94L669.96,333.53L670.42,327.85L670.88,323.41L671.34,321.30L671.80,321.70L672.25,323.56L672.71,326.12L673.17,328.92L673.63,332.12L674.09,336.80L674.55,341.96L675.00,346.75L675.46,350.68L675.92,354.12L676.38,357.32L676.84,360.42L677.30,363.55L677.75,366.78L678.21,370.20L678.67,373.79L679.13,377.43L679.59,381.01L680.05,384.46L680.50,387.75L680.96,390.96L681.42,394.10L681.88,397.16L682.34,400.14L682.80,403.02L683.25,405.82L683.71,408.53L684.17,411.17L684.63,413.74L685.09,416.25L685.55,418.71L686.00,421.12L686.46,423.49L686.92,425.89L687.38,428.32L687.84,430.71L688.30,433.02L688.75,435.21L689.21,437.24L689.67,439.08L690.13,440.72L690.59,442.20L691.05,443.56L691.50,444.82L691.96,446.02L692.42,447.18L692.88,448.30L693.34,449.37L693.80,450.39L694.25,451.37L694.71,452.30L695.17,453.20L695.63,454.05L696.09,454.88L696.55,455.67L697.00,456.44L697.46,457.18L697.92,457.88L698.38,458.54L698.84,459.17L699.30,459.75L699.75,460.30L700.21,460.83L700.67,461.33L701.13,461.81L701.59,462.27L702.05,462.70L702.50,463.11L702.96,463.50L703.42,463.86L703.88,464.21L704.34,464.54L704.80,464.85L705.25,465.16L705.71,465.44L706.17,465.72L706.63,465.98L707.09,466.23L707.55,466.47L708.00,466.70L708.46,466.92L708.92,467.13L709.38,467.33L709.84,467.53L710.30,467.71L710.75,467.89L711.21,468.06L711.67,468.23L712.13,468.39L712.59,468.54L713.05,468.68L713.50,468.82L713.96,468.95L714.42,469.08L714.88,469.21L715.34,469.33L715.80,469.44L716.25,469.55L716.71,469.66L717.17,469.76L717.63,469.86L718.09,469.95L718.55,470.04L719.00,470.13L719.46,470.21L719.92,470.28L720.38,470.36L720.84,470.43L721.30,470.50L721.75,470.56L722.21,470.63L722.67,470.69L723.13,470.76L723.59,470.82L724.05,470.89L724.50,470.95L724.96,471.01L725.42,471.08L725.88,471.14L726.34,471.20L726.80,471.26L727.25,471.32L727.71,471.38L728.17,471.44L728.63,471.49L729.09,471.55L729.55,471.60L730.00,471.65L730.46,471.70L730.92,471.75L731.38,471.80L731.84,471.85L732.30,471.90L732.75,471.94L733.21,471.98L733.67,472.03L734.13,472.07L734.59,472.11L735.05,472.14L735.50,472.18L735.96,472.22L736.42,472.25L736.88,472.28L737.34,472.31L737.80,472.34L738.25,472.37L738.71,472.40L739.17,472.43L739.63,472.46L740.09,472.49L740.55,472.53L741.00,472.56L741.46,472.59L741.92,472.62L742.38,472.65L742.84,472.68L743.30,472.71L743.75,472.73L744.21,472.76L744.67,472.79L745.13,472.82L745.59,472.84L746.05,472.87L746.50,472.89L746.96,472.92L747.42,472.94L747.88,472.96L748.34,472.99L748.80,473.01L749.25,473.04L749.71,473.06L750.17,473.08L750.63,473.11L751.09,473.13L751.55,473.15L752.00,473.18L752.46,473.20L752.92,473.23L753.38,473.25L753.84,473.27L754.30,473.30L754.75,473.32L755.21,473.34L755.67,473.37L756.13,473.39L756.59,473.41L757.05,473.43L757.50,473.46L757.96,473.48L758.42,473.50L758.88,473.52L759.34,473.54L759.80,473.57L760.25,473.59L760.71,473.61L761.17,473.63L761.63,473.65L762.09,473.67L762.55,473.69L763.00,473.71L763.46,473.73L763.92,473.75L764.38,473.77L764.84,473.78L765.30,473.80L765.75,473.82L766.21,473.84L766.67,473.85L767.13,473.87L767.59,473.89L768.05,473.90L768.50,473.92L768.96,473.93L769.42,473.95L769.88,473.96L770.34,473.98L770.80,473.99L771.25,474.00L771.71,474.02L772.17,474.03L772.63,474.04L773.09,474.05L773.55,474.06L774.00,474.08L774.46,474.09L774.92,474.10L775.38,474.11L775.84,474.12L776.30,474.12L776.75,474.13L777.21,474.14L777.67,474.15L778.13,474.16L778.59,474.16L779.05,474.17L779.50,474.17L779.96,474.18L780.42,474.18L780.88,474.19L781.34,474.19L781.80,474.20L782.25,474.20L782.71,474.20L783.17,474.20L783.63,474.21L784.09,474.21L784.55,474.21L785.00,474.21L785.46,474.21L785.92,474.21L786.38,474.21L786.84,474.21L787.30,474.21L787.75,474.21L788.21,474.21L788.67,474.21L789.13,474.21L789.59,474.21L790.05,474.21L790.50,474.21L790.96,474.21L791.42,474.21L791.88,474.21L792.34,474.21L792.80,474.21L793.25,474.21L793.71,474.21L794.17,474.21L794.63,474.21L795.09,474.21L795.55,474.21L796.00,474.21L796.46,474.21L796.92,474.21L797.38,474.21L797.84,474.21L798.30,474.21L798.75,474.21L799.21,474.21L799.67,474.21L800.13,474.21L800.59,474.21L801.05,474.21L801.50,474.21L801.96,474.21L802.42,474.21L802.88,474.21L803.34,474.21L803.80,474.21L804.25,474.21L804.71,474.21L805.17,474.21L805.63,474.21L806.09,474.21L806.55,474.21" stroke="#b98bce" stroke-width="2" fill="none" stroke-linejoin="round"/>
<rect x="52" y="533" width="152" height="179" fill="#fbfbfe"/>
<text x="127.50" y="519" font-family="Liberation Serif" font-size="13.5" text-anchor="middle" fill="#000">9</text>
<path d="M44.5,533.5H50.5V713.5H44.5" stroke="#555" fill="none" stroke-width="1"/>
<line x1="47.5" y1="550.5" x2="50.5" y2="550.5" stroke="#555"/>
<text x="44.2" y="553.89" font-family="Liberation Sans" font-size="9.5" text-anchor="end" fill="#555">30</text>
<line x1="47.5" y1="601.5" x2="50.5" y2="601.5" stroke="#555"/>
<text x="44.2" y="605.40" font-family="Liberation Sans" font-size="9.5" text-anchor="end" fill="#555">20</text>
<line x1="47.5" y1="653.5" x2="50.5" y2="653.5" stroke="#555"/>
<text x="44.2" y="656.91" font-family="Liberation Sans" font-size="9.5" text-anchor="end" fill="#555">10</text>
<line x1="47.5" y1="705.5" x2="50.5" y2="705.5" stroke="#555"/>
<text x="44.2" y="708.42" font-family="Liberation Sans" font-size="9.5" text-anchor="end" fill="#555">0</text>
<path d="M50.5,719.5V713.5H203.5V719.5" stroke="#555" fill="none" stroke-width="1"/>
<line x1="57.5" y1="713.5" x2="57.5" y2="716.5" stroke="#555"/>
<text x="57.45" y="726.0" font-family="Liberation Sans" font-size="9.5" text-anchor="middle" fill="#555">0</text>
<line x1="115.5" y1="713.5" x2="115.5" y2="716.5" stroke="#555"/>
<text x="115.41" y="726.0" font-family="Liberation Sans" font-size="9.5" text-anchor="middle" fill="#555">50</text>
<line x1="173.5" y1="713.5" x2="173.5" y2="716.5" stroke="#555"/>
<text x="173.36" y="726.0" font-family="Liberation Sans" font-size="9.5" text-anchor="middle" fill="#555">100</text>
<circle cx="57.79" cy="617.27" r="3.0" fill="#4682b4" stroke="#fff" stroke-opacity="0.5" stroke-width="0.6"/>
<circle cx="59.09" cy="583.62" r="3.0" fill="#4682b4" stroke="#fff" stroke-opacity="0.5" stroke-width="0.6"/>
<circle cx="61.16" cy="544.53" r="3.0" fill="#4682b4" stroke="#fff" stroke-opacity="0.5" stroke-width="0.6"/>
<circle cx="63.75" cy="544.01" r="3.0" fill="#4682b4" stroke="#fff" stroke-opacity="0.5" stroke-width="0.6"/>
<circle cx="65.82" cy="574.30" r="3.0" fill="#4682b4" stroke="#fff" stroke-opacity="0.5" stroke-width="0.6"/>
<circle cx="68.41" cy="605.88" r="3.0" fill="#4682b4" stroke="#fff" stroke-opacity="0.5" stroke-width="0.6"/>
<circle cx="70.74" cy="635.91" r="3.0" fill="#4682b4" stroke="#fff" stroke-opacity="0.5" stroke-width="0.6"/>
<circle cx="84.71" cy="688.71" r="3.0" fill="#4682b4" stroke="#fff" stroke-opacity="0.5" stroke-width="0.6"/>
<circle cx="91.70" cy="691.30" r="3.0" fill="#4682b4" stroke="#fff" stroke-opacity="0.5" stroke-width="0.6"/>
<circle cx="98.69" cy="697.77" r="3.0" fill="#4682b4" stroke="#fff" stroke-opacity="0.5" stroke-width="0.6"/>
<circle cx="105.68" cy="699.07" r="3.0" fill="#4682b4" stroke="#fff" stroke-opacity="0.5" stroke-width="0.6"/>
<circle cx="112.67" cy="700.10" r="3.0" fill="#4682b4" stroke="#fff" stroke-opacity="0.5" stroke-width="0.6"/>
<circle cx="126.39" cy="700.36" r="3.0" fill="#4682b4" stroke="#fff" stroke-opacity="0.5" stroke-width="0.6"/>
<circle cx="140.37" cy="703.47" r="3.0" fill="#4682b4" stroke="#fff" stroke-opacity="0.5" stroke-width="0.6"/>
<path d="M57.45,705.02L57.49,694.63L57.52,684.93L57.56,675.84L57.59,667.48L57.62,659.55L57.66,651.58L57.69,642.41L57.73,633.67L57.76,627.89L57.79,624.11L57.83,620.94L57.86,618.26L57.90,615.95L57.93,613.92L57.96,612.10L58.00,610.41L58.03,608.80L58.06,607.22L58.10,605.63L58.13,604.02L58.17,602.47L58.20,601.01L58.23,599.63L58.27,598.32L58.30,597.06L58.34,595.85L58.37,594.69L58.40,593.56L58.44,592.47L58.47,591.40L58.51,590.36L58.54,589.34L58.57,588.33L58.61,587.33L58.64,586.35L58.67,585.37L58.71,584.40L58.74,583.43L58.78,582.46L58.81,581.49L58.84,580.52L58.88,579.53L58.91,578.53L58.95,577.51L58.98,576.49L59.01,575.47L59.05,574.45L59.08,573.43L59.12,572.42L59.15,571.43L59.18,570.44L59.22,569.47L59.25,568.52L59.29,567.59L59.32,566.68L59.35,565.79L59.39,564.93L59.42,564.09L59.45,563.29L59.50,562.14L59.96,554.43L60.42,548.54L60.88,544.46L61.34,542.64L61.80,543.37L62.25,546.33L62.71,550.29L63.17,554.46L63.63,558.30L64.09,561.76L64.55,565.30L65.00,569.02L65.46,573.01L65.92,577.29L66.38,582.50L66.84,588.61L67.30,594.51L67.75,599.54L68.21,604.00L68.67,608.35L69.13,612.96L69.59,618.26L70.05,624.46L70.50,630.36L70.96,635.02L71.42,638.97L71.88,642.50L72.34,645.69L72.80,648.59L73.25,651.25L73.71,653.68L74.17,655.85L74.63,657.82L75.09,659.65L75.55,661.40L76.00,663.11L76.46,664.82L76.92,666.57L77.38,668.38L77.84,670.34L78.30,672.47L78.75,674.50L79.21,676.20L79.67,677.63L80.13,678.94L80.59,680.12L81.05,681.22L81.50,682.23L81.96,683.18L82.42,684.08L82.88,684.93L83.34,685.72L83.80,686.46L84.25,687.15L84.71,687.79L85.17,688.37L85.63,688.92L86.09,689.44L86.55,689.92L87.00,690.38L87.46,690.81L87.92,691.21L88.38,691.59L88.84,691.95L89.30,692.29L89.75,692.61L90.21,692.92L90.67,693.21L91.13,693.49L91.59,693.75L92.05,694.01L92.50,694.26L92.96,694.50L93.42,694.74L93.88,694.97L94.34,695.19L94.80,695.41L95.25,695.61L95.71,695.81L96.17,696.01L96.63,696.20L97.09,696.38L97.55,696.55L98.00,696.72L98.46,696.88L98.92,697.04L99.38,697.19L99.84,697.34L100.30,697.48L100.75,697.62L101.21,697.75L101.67,697.88L102.13,698.00L102.59,698.12L103.05,698.24L103.50,698.35L103.96,698.45L104.42,698.56L104.88,698.66L105.34,698.75L105.80,698.85L106.25,698.95L106.71,699.04L107.17,699.14L107.63,699.23L108.09,699.33L108.55,699.42L109.00,699.52L109.46,699.62L109.92,699.71L110.38,699.81L110.84,699.90L111.30,699.99L111.75,700.08L112.21,700.17L112.67,700.25L113.13,700.33L113.59,700.41L114.05,700.48L114.50,700.56L114.96,700.63L115.42,700.70L115.88,700.77L116.34,700.84L116.80,700.90L117.25,700.97L117.71,701.03L118.17,701.09L118.63,701.15L119.09,701.21L119.55,701.27L120.00,701.33L120.46,701.39L120.92,701.44L121.38,701.50L121.84,701.55L122.30,701.60L122.75,701.66L123.21,701.71L123.67,701.76L124.13,701.80L124.59,701.85L125.05,701.89L125.50,701.94L125.96,701.98L126.42,702.02L126.88,702.07L127.34,702.11L127.80,702.15L128.25,702.19L128.71,702.23L129.17,702.27L129.63,702.31L130.09,702.34L130.55,702.38L131.00,702.42L131.46,702.46L131.92,702.50L132.38,702.54L132.84,702.58L133.30,702.62L133.75,702.65L134.21,702.69L134.67,702.73L135.13,702.76L135.59,702.79L136.05,702.82L136.50,702.85L136.96,702.87L137.42,702.90L137.88,702.92L138.34,702.95L138.80,702.97L139.25,702.99L139.71,703.02L140.17,703.04L140.63,703.06L141.09,703.09L141.55,703.11L142.00,703.13L142.46,703.16L142.92,703.18L143.38,703.20L143.84,703.22L144.30,703.24L144.75,703.27L145.21,703.29L145.67,703.31L146.13,703.33L146.59,703.35L147.05,703.37L147.50,703.39L147.96,703.41L148.42,703.43L148.88,703.45L149.34,703.47L149.80,703.49L150.25,703.51L150.71,703.53L151.17,703.55L151.63,703.57L152.09,703.59L152.55,703.61L153.00,703.62L153.46,703.64L153.92,703.66L154.38,703.68L154.84,703.69L155.30,703.71L155.75,703.73L156.21,703.75L156.67,703.76L157.13,703.78L157.59,703.79L158.05,703.81L158.50,703.83L158.96,703.84L159.42,703.86L159.88,703.87L160.34,703.89L160.80,703.90L161.25,703.92L161.71,703.93L162.17,703.95L162.63,703.96L163.09,703.98L163.55,703.99L164.00,704.00L164.46,704.02L164.92,704.03L165.38,704.04L165.84,704.05L166.30,704.07L166.75,704.08L167.21,704.09L167.67,704.10L168.13,704.12L168.59,704.13L169.05,704.14L169.50,704.15L169.96,704.16L170.42,704.17L170.88,704.18L171.34,704.19L171.80,704.20L172.25,704.21L172.71,704.22L173.17,704.23L173.63,704.24L174.09,704.25L174.55,704.26L175.00,704.27L175.46,704.28L175.92,704.29L176.38,704.30L176.84,704.31L177.30,704.31L177.75,704.32L178.21,704.33L178.67,704.34L179.13,704.35L179.59,704.35L180.05,704.36L180.50,704.37L180.96,704.37L181.42,704.38L181.88,704.39L182.34,704.39L182.80,704.40L183.25,704.40L183.71,704.41L184.17,704.42L184.63,704.42L185.09,704.43L185.55,704.43L186.00,704.44L186.46,704.44L186.92,704.45L187.38,704.45L187.84,704.45L188.30,704.46L188.75,704.46L189.21,704.47L189.67,704.47L190.13,704.47L190.59,704.48L191.05,704.48L191.50,704.48L191.96,704.49L192.42,704.49L192.88,704.49L193.34,704.49L193.80,704.50L194.25,704.50L194.71,704.50L195.17,704.50L195.63,704.50L196.09,704.50L196.55,704.51" stroke="#b98bce" stroke-width="2" fill="none" stroke-linejoin="round"/>
<rect x="255" y="533" width="152" height="179" fill="#fbfbfe"/>
<text x="330.50" y="519" font-family="Liberation Serif" font-size="13.5" text-anchor="middle" fill="#000">10</text>
<path d="M247.5,533.5H253.5V713.5H247.5" stroke="#555" fill="none" stroke-width="1"/>
<line x1="250.5" y1="536.5" x2="253.5" y2="536.5" stroke="#555"/>
<text x="247.2" y="540.25" font-family="Liberation Sans" font-size="9.5" text-anchor="end" fill="#555">25</text>
<line x1="250.5" y1="570.5" x2="253.5" y2="570.5" stroke="#555"/>
<text x="247.2" y="573.90" font-family="Liberation Sans" font-size="9.5" text-anchor="end" fill="#555">20</text>
<line x1="250.5" y1="604.5" x2="253.5" y2="604.5" stroke="#555"/>
<text x="247.2" y="607.55" font-family="Liberation Sans" font-size="9.5" text-anchor="end" fill="#555">15</text>
<line x1="250.5" y1="637.5" x2="253.5" y2="637.5" stroke="#555"/>
<text x="247.2" y="641.21" font-family="Liberation Sans" font-size="9.5" text-anchor="end" fill="#555">10</text>
<line x1="250.5" y1="671.5" x2="253.5" y2="671.5" stroke="#555"/>
<text x="247.2" y="674.86" font-family="Liberation Sans" font-size="9.5" text-anchor="end" fill="#555">5</text>
<line x1="250.5" y1="705.5" x2="253.5" y2="705.5" stroke="#555"/>
<text x="247.2" y="708.51" font-family="Liberation Sans" font-size="9.5" text-anchor="end" fill="#555">0</text>
<path d="M253.5,719.5V713.5H406.5V719.5" stroke="#555" fill="none" stroke-width="1"/>
<line x1="260.5" y1="713.5" x2="260.5" y2="716.5" stroke="#555"/>
<text x="260.45" y="726.0" font-family="Liberation Sans" font-size="9.5" text-anchor="middle" fill="#555">0</text>
<line x1="318.5" y1="713.5" x2="318.5" y2="716.5" stroke="#555"/>
<text x="318.41" y="726.0" font-family="Liberation Sans" font-size="9.5" text-anchor="middle" fill="#555">50</text>
<line x1="376.5" y1="713.5" x2="376.5" y2="716.5" stroke="#555"/>
<text x="376.36" y="726.0" font-family="Liberation Sans" font-size="9.5" text-anchor="middle" fill="#555">100</text>
<circle cx="261.05" cy="633.84" r="3.0" fill="#4682b4" stroke="#fff" stroke-opacity="0.5" stroke-width="0.6"/>
<circle cx="262.09" cy="581.29" r="3.0" fill="#4682b4" stroke="#fff" stroke-opacity="0.5" stroke-width="0.6"/>
<circle cx="264.68" cy="554.89" r="3.0" fill="#4682b4" stroke="#fff" stroke-opacity="0.5" stroke-width="0.6"/>
<circle cx="267.01" cy="541.17" r="3.0" fill="#4682b4" stroke="#fff" stroke-opacity="0.5" stroke-width="0.6"/>
<circle cx="269.34" cy="594.49" r="3.0" fill="#4682b4" stroke="#fff" stroke-opacity="0.5" stroke-width="0.6"/>
<circle cx="271.66" cy="584.65" r="3.0" fill="#4682b4" stroke="#fff" stroke-opacity="0.5" stroke-width="0.6"/>
<circle cx="273.99" cy="603.81" r="3.0" fill="#4682b4" stroke="#fff" stroke-opacity="0.5" stroke-width="0.6"/>
<circle cx="287.97" cy="675.51" r="3.0" fill="#4682b4" stroke="#fff" stroke-opacity="0.5" stroke-width="0.6"/>
<circle cx="294.96" cy="686.13" r="3.0" fill="#4682b4" stroke="#fff" stroke-opacity="0.5" stroke-width="0.6"/>
<circle cx="301.95" cy="692.60" r="3.0" fill="#4682b4" stroke="#fff" stroke-opacity="0.5" stroke-width="0.6"/>
<circle cx="308.94" cy="695.19" r="3.0" fill="#4682b4" stroke="#fff" stroke-opacity="0.5" stroke-width="0.6"/>
<circle cx="315.93" cy="698.55" r="3.0" fill="#4682b4" stroke="#fff" stroke-opacity="0.5" stroke-width="0.6"/>
<circle cx="329.65" cy="701.92" r="3.0" fill="#4682b4" stroke="#fff" stroke-opacity="0.5" stroke-width="0.6"/>
<circle cx="343.63" cy="700.36" r="3.0" fill="#4682b4" stroke="#fff" stroke-opacity="0.5" stroke-width="0.6"/>
<circle cx="371.32" cy="702.43" r="3.0" fill="#4682b4" stroke="#fff" stroke-opacity="0.5" stroke-width="0.6"/>
<path d="M260.45,705.11L260.49,694.68L260.52,684.95L260.56,675.84L260.59,666.76L260.62,658.35L260.66,651.86L260.69,646.82L260.73,642.40L260.76,638.55L260.79,635.19L260.83,632.29L260.86,629.78L260.90,627.63L260.93,625.72L260.96,624.01L261.00,622.46L261.03,621.05L261.06,619.75L261.10,618.55L261.13,617.43L261.17,616.37L261.20,615.36L261.23,614.40L261.27,613.46L261.30,612.55L261.34,611.65L261.37,610.76L261.40,609.88L261.44,608.98L261.47,608.09L261.51,607.18L261.54,606.25L261.57,605.31L261.61,604.35L261.64,603.38L261.67,602.40L261.71,601.41L261.74,600.42L261.78,599.44L261.81,598.45L261.84,597.47L261.88,596.51L261.91,595.55L261.95,594.60L261.98,593.66L262.01,592.75L262.05,591.84L262.08,590.95L262.12,590.09L262.15,589.24L262.18,588.41L262.22,587.59L262.25,586.81L262.29,586.04L262.32,585.29L262.35,584.56L262.39,583.86L262.42,583.18L262.45,582.53L262.50,581.60L262.96,574.40L263.42,568.70L263.88,564.27L264.34,560.88L264.80,557.76L265.25,555.07L265.71,553.17L266.17,552.21L266.63,552.34L267.09,553.68L267.55,555.70L268.00,557.98L268.46,560.47L268.92,563.95L269.38,568.04L269.84,572.29L270.30,576.38L270.75,580.24L271.21,584.23L271.67,588.20L272.13,592.02L272.59,595.57L273.05,598.79L273.50,601.73L273.96,604.50L274.42,607.22L274.88,609.96L275.34,612.80L275.80,615.78L276.25,618.99L276.71,622.34L277.17,625.73L277.63,629.06L278.09,632.28L278.55,635.39L279.00,638.57L279.46,641.72L279.92,644.76L280.38,647.58L280.84,650.12L281.30,652.30L281.75,654.23L282.21,655.98L282.67,657.59L283.13,659.09L283.59,660.51L284.05,661.85L284.50,663.15L284.96,664.42L285.42,665.66L285.88,666.91L286.34,668.17L286.80,669.44L287.25,670.72L287.71,671.98L288.17,673.21L288.63,674.39L289.09,675.52L289.55,676.61L290.00,677.68L290.46,678.71L290.92,679.71L291.38,680.66L291.84,681.57L292.30,682.43L292.75,683.26L293.21,684.06L293.67,684.83L294.13,685.57L294.59,686.28L295.05,686.94L295.50,687.57L295.96,688.16L296.42,688.71L296.88,689.23L297.34,689.73L297.80,690.20L298.25,690.66L298.71,691.09L299.17,691.51L299.63,691.91L300.09,692.29L300.55,692.66L301.00,693.02L301.46,693.37L301.92,693.70L302.38,694.02L302.84,694.33L303.30,694.62L303.75,694.90L304.21,695.17L304.67,695.42L305.13,695.66L305.59,695.89L306.05,696.11L306.50,696.32L306.96,696.52L307.42,696.72L307.88,696.90L308.34,697.08L308.80,697.26L309.25,697.43L309.71,697.59L310.17,697.74L310.63,697.89L311.09,698.04L311.55,698.18L312.00,698.32L312.46,698.45L312.92,698.57L313.38,698.69L313.84,698.81L314.30,698.92L314.75,699.02L315.21,699.13L315.67,699.23L316.13,699.32L316.59,699.42L317.05,699.51L317.50,699.59L317.96,699.68L318.42,699.76L318.88,699.84L319.34,699.91L319.80,699.98L320.25,700.05L320.71,700.11L321.17,700.18L321.63,700.24L322.09,700.29L322.55,700.35L323.00,700.41L323.46,700.46L323.92,700.52L324.38,700.57L324.84,700.62L325.30,700.67L325.75,700.72L326.21,700.77L326.67,700.82L327.13,700.87L327.59,700.91L328.05,700.96L328.50,701.00L328.96,701.04L329.42,701.08L329.88,701.12L330.34,701.16L330.80,701.19L331.25,701.23L331.71,701.26L332.17,701.30L332.63,701.33L333.09,701.36L333.55,701.39L334.00,701.42L334.46,701.45L334.92,701.48L335.38,701.51L335.84,701.53L336.30,701.56L336.75,701.59L337.21,701.62L337.67,701.65L338.13,701.68L338.59,701.70L339.05,701.72L339.50,701.74L339.96,701.76L340.42,701.77L340.88,701.79L341.34,701.80L341.80,701.81L342.25,701.82L342.71,701.83L343.17,701.83L343.63,701.84L344.09,701.85L344.55,701.86L345.00,701.87L345.46,701.88L345.92,701.88L346.38,701.89L346.84,701.91L347.30,701.92L347.75,701.93L348.21,701.94L348.67,701.95L349.13,701.97L349.59,701.98L350.05,701.99L350.50,702.01L350.96,702.02L351.42,702.03L351.88,702.05L352.34,702.06L352.80,702.07L353.25,702.09L353.71,702.10L354.17,702.12L354.63,702.13L355.09,702.14L355.55,702.16L356.00,702.17L356.46,702.19L356.92,702.20L357.38,702.22L357.84,702.23L358.30,702.25L358.75,702.26L359.21,702.28L359.67,702.30L360.13,702.31L360.59,702.33L361.05,702.34L361.50,702.36L361.96,702.38L362.42,702.39L362.88,702.41L363.34,702.42L363.80,702.44L364.25,702.46L364.71,702.47L365.17,702.49L365.63,702.51L366.09,702.53L366.55,702.54L367.00,702.56L367.46,702.58L367.92,702.59L368.38,702.61L368.84,702.63L369.30,702.65L369.75,702.66L370.21,702.68L370.67,702.70L371.13,702.72L371.59,702.74L372.05,702.75L372.50,702.77L372.96,702.79L373.42,702.81L373.88,702.83L374.34,702.85L374.80,702.86L375.25,702.88L375.71,702.90L376.17,702.92L376.63,702.94L377.09,702.96L377.55,702.98L378.00,703.00L378.46,703.02L378.92,703.03L379.38,703.05L379.84,703.07L380.30,703.09L380.75,703.11L381.21,703.13L381.67,703.15L382.13,703.17L382.59,703.19L383.05,703.21L383.50,703.23L383.96,703.25L384.42,703.27L384.88,703.29L385.34,703.31L385.80,703.33L386.25,703.35L386.71,703.37L387.17,703.39L387.63,703.41L388.09,703.43L388.55,703.45L389.00,703.47L389.46,703.49L389.92,703.51L390.38,703.53L390.84,703.55L391.30,703.57L391.75,703.59L392.21,703.61L392.67,703.64L393.13,703.66L393.59,703.68L394.05,703.70L394.50,703.72L394.96,703.74L395.42,703.76L395.88,703.78L396.34,703.80L396.80,703.82L397.25,703.84L397.71,703.87L398.17,703.89L398.63,703.91L399.09,703.93L399.55,703.95" stroke="#b98bce" stroke-width="2" fill="none" stroke-linejoin="round"/>
<rect x="458" y="533" width="153" height="179" fill="#fbfbfe"/>
<text x="534.00" y="519" font-family="Liberation Serif" font-size="13.5" text-anchor="middle" fill="#000">11</text>
<path d="M450.5,533.5H456.5V713.5H450.5" stroke="#555" fill="none" stroke-width="1"/>
<line x1="453.5" y1="564.5" x2="456.5" y2="564.5" stroke="#555"/>
<text x="450.2" y="567.86" font-family="Liberation Sans" font-size="9.5" text-anchor="end" fill="#555">30</text>
<line x1="453.5" y1="611.5" x2="456.5" y2="611.5" stroke="#555"/>
<text x="450.2" y="614.72" font-family="Liberation Sans" font-size="9.5" text-anchor="end" fill="#555">20</text>
<line x1="453.5" y1="658.5" x2="456.5" y2="658.5" stroke="#555"/>
<text x="450.2" y="661.57" font-family="Liberation Sans" font-size="9.5" text-anchor="end" fill="#555">10</text>
<line x1="453.5" y1="705.5" x2="456.5" y2="705.5" stroke="#555"/>
<text x="450.2" y="708.42" font-family="Liberation Sans" font-size="9.5" text-anchor="end" fill="#555">0</text>
<path d="M456.5,719.5V713.5H610.5V719.5" stroke="#555" fill="none" stroke-width="1"/>
<line x1="463.5" y1="713.5" x2="463.5" y2="716.5" stroke="#555"/>
<text x="463.50" y="726.0" font-family="Liberation Sans" font-size="9.5" text-anchor="middle" fill="#555">0</text>
<line x1="521.5" y1="713.5" x2="521.5" y2="716.5" stroke="#555"/>
<text x="521.83" y="726.0" font-family="Liberation Sans" font-size="9.5" text-anchor="middle" fill="#555">50</text>
<line x1="580.5" y1="713.5" x2="580.5" y2="716.5" stroke="#555"/>
<text x="580.17" y="726.0" font-family="Liberation Sans" font-size="9.5" text-anchor="middle" fill="#555">100</text>
<circle cx="464.31" cy="657.13" r="3.0" fill="#4682b4" stroke="#fff" stroke-opacity="0.5" stroke-width="0.6"/>
<circle cx="465.60" cy="597.34" r="3.0" fill="#4682b4" stroke="#fff" stroke-opacity="0.5" stroke-width="0.6"/>
<circle cx="467.93" cy="541.17" r="3.0" fill="#4682b4" stroke="#fff" stroke-opacity="0.5" stroke-width="0.6"/>
<circle cx="470.52" cy="548.67" r="3.0" fill="#4682b4" stroke="#fff" stroke-opacity="0.5" stroke-width="0.6"/>
<circle cx="472.59" cy="588.28" r="3.0" fill="#4682b4" stroke="#fff" stroke-opacity="0.5" stroke-width="0.6"/>
<circle cx="474.92" cy="604.33" r="3.0" fill="#4682b4" stroke="#fff" stroke-opacity="0.5" stroke-width="0.6"/>
<circle cx="477.25" cy="618.56" r="3.0" fill="#4682b4" stroke="#fff" stroke-opacity="0.5" stroke-width="0.6"/>
<circle cx="491.23" cy="683.54" r="3.0" fill="#4682b4" stroke="#fff" stroke-opacity="0.5" stroke-width="0.6"/>
<circle cx="498.22" cy="692.34" r="3.0" fill="#4682b4" stroke="#fff" stroke-opacity="0.5" stroke-width="0.6"/>
<circle cx="505.21" cy="696.48" r="3.0" fill="#4682b4" stroke="#fff" stroke-opacity="0.5" stroke-width="0.6"/>
<circle cx="512.20" cy="696.74" r="3.0" fill="#4682b4" stroke="#fff" stroke-opacity="0.5" stroke-width="0.6"/>
<circle cx="519.19" cy="699.84" r="3.0" fill="#4682b4" stroke="#fff" stroke-opacity="0.5" stroke-width="0.6"/>
<circle cx="546.89" cy="702.43" r="3.0" fill="#4682b4" stroke="#fff" stroke-opacity="0.5" stroke-width="0.6"/>
<circle cx="602.54" cy="703.73" r="3.0" fill="#4682b4" stroke="#fff" stroke-opacity="0.5" stroke-width="0.6"/>
<path d="M463.50,705.02L463.53,692.97L463.57,682.94L463.60,676.02L463.64,671.37L463.67,667.62L463.70,664.51L463.74,661.85L463.77,659.48L463.81,657.27L463.84,655.11L463.87,652.91L463.91,650.70L463.94,648.61L463.97,646.62L464.01,644.73L464.04,642.91L464.08,641.17L464.11,639.50L464.14,637.88L464.18,636.30L464.21,634.77L464.25,633.28L464.28,631.81L464.31,630.38L464.35,628.97L464.38,627.57L464.42,626.20L464.45,624.85L464.48,623.51L464.52,622.20L464.55,620.92L464.58,619.65L464.62,618.42L464.65,617.21L464.69,616.04L464.72,614.89L464.75,613.77L464.79,612.68L464.82,611.61L464.86,610.58L464.89,609.58L464.92,608.61L464.96,607.67L464.99,606.75L465.03,605.87L465.06,605.02L465.09,604.19L465.13,603.39L465.16,602.60L465.19,601.83L465.23,601.08L465.26,600.35L465.30,599.63L465.33,598.93L465.36,598.24L465.40,597.56L465.43,596.90L465.47,596.26L465.50,595.62L465.55,594.71L466.01,587.28L466.47,581.18L466.93,575.56L467.40,571.54L467.86,569.61L468.32,568.26L468.78,567.65L469.24,567.94L469.70,569.05L470.16,570.61L470.63,572.91L471.09,576.66L471.55,580.07L472.01,583.37L472.47,586.63L472.93,589.89L473.39,593.18L473.85,596.51L474.32,600.00L474.78,603.64L475.24,607.29L475.70,610.87L476.16,614.30L476.62,617.55L477.08,620.69L477.55,623.74L478.01,626.76L478.47,629.77L478.93,632.80L479.39,635.92L479.85,639.18L480.31,642.45L480.78,645.63L481.24,648.63L481.70,651.38L482.16,653.88L482.62,656.27L483.08,658.56L483.54,660.73L484.00,662.78L484.47,664.70L484.93,666.48L485.39,668.12L485.85,669.61L486.31,670.96L486.77,672.19L487.23,673.34L487.70,674.45L488.16,675.54L488.62,676.63L489.08,677.71L489.54,678.77L490.00,679.79L490.46,680.78L490.93,681.71L491.39,682.60L491.85,683.45L492.31,684.27L492.77,685.06L493.23,685.81L493.69,686.54L494.16,687.22L494.62,687.87L495.08,688.48L495.54,689.04L496.00,689.59L496.46,690.10L496.92,690.60L497.38,691.07L497.85,691.51L498.31,691.94L498.77,692.34L499.23,692.71L499.69,693.07L500.15,693.40L500.61,693.72L501.08,694.02L501.54,694.31L502.00,694.59L502.46,694.86L502.92,695.11L503.38,695.36L503.84,695.61L504.31,695.85L504.77,696.08L505.23,696.32L505.69,696.54L506.15,696.76L506.61,696.97L507.07,697.18L507.53,697.37L508.00,697.56L508.46,697.74L508.92,697.90L509.38,698.06L509.84,698.21L510.30,698.35L510.76,698.49L511.23,698.62L511.69,698.75L512.15,698.87L512.61,698.99L513.07,699.10L513.53,699.21L513.99,699.31L514.46,699.41L514.92,699.50L515.38,699.59L515.84,699.68L516.30,699.77L516.76,699.85L517.22,699.93L517.68,700.00L518.15,700.08L518.61,700.15L519.07,700.22L519.53,700.28L519.99,700.35L520.45,700.41L520.91,700.47L521.38,700.53L521.84,700.58L522.30,700.63L522.76,700.69L523.22,700.74L523.68,700.79L524.14,700.83L524.61,700.88L525.07,700.92L525.53,700.96L525.99,701.00L526.45,701.04L526.91,701.08L527.37,701.12L527.84,701.15L528.30,701.19L528.76,701.22L529.22,701.25L529.68,701.28L530.14,701.31L530.60,701.33L531.06,701.36L531.53,701.38L531.99,701.41L532.45,701.43L532.91,701.45L533.37,701.47L533.83,701.49L534.29,701.51L534.76,701.54L535.22,701.56L535.68,701.58L536.14,701.60L536.60,701.62L537.06,701.65L537.52,701.67L537.99,701.69L538.45,701.71L538.91,701.73L539.37,701.75L539.83,701.78L540.29,701.80L540.75,701.82L541.21,701.84L541.68,701.86L542.14,701.88L542.60,701.90L543.06,701.92L543.52,701.94L543.98,701.96L544.44,701.98L544.91,702.01L545.37,702.03L545.83,702.05L546.29,702.07L546.75,702.09L547.21,702.11L547.67,702.13L548.14,702.15L548.60,702.16L549.06,702.18L549.52,702.20L549.98,702.22L550.44,702.24L550.90,702.26L551.37,702.28L551.83,702.30L552.29,702.32L552.75,702.34L553.21,702.36L553.67,702.37L554.13,702.39L554.59,702.41L555.06,702.43L555.52,702.45L555.98,702.47L556.44,702.48L556.90,702.50L557.36,702.52L557.82,702.54L558.29,702.56L558.75,702.57L559.21,702.59L559.67,702.61L560.13,702.63L560.59,702.64L561.05,702.66L561.52,702.68L561.98,702.70L562.44,702.71L562.90,702.73L563.36,702.75L563.82,702.76L564.28,702.78L564.74,702.80L565.21,702.81L565.67,702.83L566.13,702.85L566.59,702.86L567.05,702.88L567.51,702.90L567.97,702.91L568.44,702.93L568.90,702.94L569.36,702.96L569.82,702.98L570.28,702.99L570.74,703.01L571.20,703.02L571.67,703.04L572.13,703.06L572.59,703.07L573.05,703.09L573.51,703.10L573.97,703.12L574.43,703.13L574.89,703.15L575.36,703.16L575.82,703.18L576.28,703.20L576.74,703.21L577.20,703.23L577.66,703.24L578.12,703.26L578.59,703.27L579.05,703.29L579.51,703.30L579.97,703.32L580.43,703.33L580.89,703.34L581.35,703.36L581.82,703.37L582.28,703.39L582.74,703.40L583.20,703.42L583.66,703.43L584.12,703.45L584.58,703.46L585.05,703.48L585.51,703.49L585.97,703.50L586.43,703.52L586.89,703.53L587.35,703.55L587.81,703.56L588.27,703.57L588.74,703.59L589.20,703.60L589.66,703.62L590.12,703.63L590.58,703.64L591.04,703.66L591.50,703.67L591.97,703.68L592.43,703.70L592.89,703.71L593.35,703.73L593.81,703.74L594.27,703.75L594.73,703.77L595.20,703.78L595.66,703.79L596.12,703.81L596.58,703.82L597.04,703.83L597.50,703.85L597.96,703.86L598.42,703.87L598.89,703.88L599.35,703.90L599.81,703.91L600.27,703.92L600.73,703.94L601.19,703.95L601.65,703.96L602.12,703.97L602.58,703.99L603.04,704.00L603.50,704.01" stroke="#b98bce" stroke-width="2" fill="none" stroke-linejoin="round"/>
<rect x="662" y="533" width="152" height="179" fill="#fbfbfe"/>
<text x="737.50" y="519" font-family="Liberation Serif" font-size="13.5" text-anchor="middle" fill="#000">12</text>
<path d="M654.5,533.5H660.5V713.5H654.5" stroke="#555" fill="none" stroke-width="1"/>
<line x1="657.5" y1="544.5" x2="660.5" y2="544.5" stroke="#555"/>
<text x="654.2" y="547.59" font-family="Liberation Sans" font-size="9.5" text-anchor="end" fill="#555">30</text>
<line x1="657.5" y1="597.5" x2="660.5" y2="597.5" stroke="#555"/>
<text x="654.2" y="601.23" font-family="Liberation Sans" font-size="9.5" text-anchor="end" fill="#555">20</text>
<line x1="657.5" y1="651.5" x2="660.5" y2="651.5" stroke="#555"/>
<text x="654.2" y="654.86" font-family="Liberation Sans" font-size="9.5" text-anchor="end" fill="#555">10</text>
<line x1="657.5" y1="705.5" x2="660.5" y2="705.5" stroke="#555"/>
<text x="654.2" y="708.50" font-family="Liberation Sans" font-size="9.5" text-anchor="end" fill="#555">0</text>
<path d="M660.5,719.5V713.5H813.5V719.5" stroke="#555" fill="none" stroke-width="1"/>
<line x1="667.5" y1="713.5" x2="667.5" y2="716.5" stroke="#555"/>
<text x="667.45" y="726.0" font-family="Liberation Sans" font-size="9.5" text-anchor="middle" fill="#555">0</text>
<line x1="725.5" y1="713.5" x2="725.5" y2="716.5" stroke="#555"/>
<text x="725.41" y="726.0" font-family="Liberation Sans" font-size="9.5" text-anchor="middle" fill="#555">50</text>
<line x1="783.5" y1="713.5" x2="783.5" y2="716.5" stroke="#555"/>
<text x="783.36" y="726.0" font-family="Liberation Sans" font-size="9.5" text-anchor="middle" fill="#555">100</text>
<circle cx="667.53" cy="628.66" r="3.0" fill="#4682b4" stroke="#fff" stroke-opacity="0.5" stroke-width="0.6"/>
<circle cx="668.83" cy="571.19" r="3.0" fill="#4682b4" stroke="#fff" stroke-opacity="0.5" stroke-width="0.6"/>
<circle cx="671.16" cy="541.17" r="3.0" fill="#4682b4" stroke="#fff" stroke-opacity="0.5" stroke-width="0.6"/>
<circle cx="673.75" cy="561.87" r="3.0" fill="#4682b4" stroke="#fff" stroke-opacity="0.5" stroke-width="0.6"/>
<circle cx="676.08" cy="542.98" r="3.0" fill="#4682b4" stroke="#fff" stroke-opacity="0.5" stroke-width="0.6"/>
<circle cx="678.15" cy="595.53" r="3.0" fill="#4682b4" stroke="#fff" stroke-opacity="0.5" stroke-width="0.6"/>
<circle cx="680.74" cy="627.11" r="3.0" fill="#4682b4" stroke="#fff" stroke-opacity="0.5" stroke-width="0.6"/>
<circle cx="694.46" cy="690.01" r="3.0" fill="#4682b4" stroke="#fff" stroke-opacity="0.5" stroke-width="0.6"/>
<circle cx="701.44" cy="695.19" r="3.0" fill="#4682b4" stroke="#fff" stroke-opacity="0.5" stroke-width="0.6"/>
<circle cx="708.43" cy="697.77" r="3.0" fill="#4682b4" stroke="#fff" stroke-opacity="0.5" stroke-width="0.6"/>
<circle cx="715.42" cy="700.10" r="3.0" fill="#4682b4" stroke="#fff" stroke-opacity="0.5" stroke-width="0.6"/>
<circle cx="722.41" cy="700.88" r="3.0" fill="#4682b4" stroke="#fff" stroke-opacity="0.5" stroke-width="0.6"/>
<circle cx="736.13" cy="702.43" r="3.0" fill="#4682b4" stroke="#fff" stroke-opacity="0.5" stroke-width="0.6"/>
<circle cx="777.81" cy="703.21" r="3.0" fill="#4682b4" stroke="#fff" stroke-opacity="0.5" stroke-width="0.6"/>
<circle cx="805.76" cy="703.99" r="3.0" fill="#4682b4" stroke="#fff" stroke-opacity="0.5" stroke-width="0.6"/>
<path d="M667.45,705.10L667.49,694.67L667.52,684.95L667.56,675.84L667.59,667.47L667.62,659.55L667.66,651.59L667.69,643.26L667.73,635.02L667.76,627.42L667.79,619.68L667.83,612.33L667.86,606.69L667.90,603.51L667.93,601.14L667.96,599.11L668.00,597.34L668.03,595.80L668.06,594.45L668.10,593.25L668.13,592.18L668.17,591.21L668.20,590.31L668.23,589.48L668.27,588.68L668.30,587.91L668.34,587.15L668.37,586.39L668.40,585.63L668.44,584.85L668.47,584.04L668.51,583.21L668.54,582.34L668.57,581.43L668.61,580.47L668.64,579.49L668.67,578.50L668.71,577.49L668.74,576.48L668.78,575.46L668.81,574.45L668.84,573.44L668.88,572.44L668.91,571.46L668.95,570.48L668.98,569.52L669.01,568.58L669.05,567.65L669.08,566.75L669.12,565.87L669.15,565.01L669.18,564.18L669.22,563.37L669.25,562.59L669.29,561.83L669.32,561.10L669.35,560.40L669.39,559.73L669.42,559.09L669.45,558.48L669.50,557.63L669.96,550.77L670.42,545.28L670.88,542.08L671.34,541.45L671.80,543.35L672.25,546.71L672.71,550.65L673.17,554.64L673.63,558.32L674.09,561.77L674.55,565.45L675.00,569.31L675.46,573.28L675.92,577.32L676.38,581.51L676.84,585.96L677.30,590.66L677.75,595.56L678.21,601.00L678.67,607.00L679.13,612.81L679.59,617.99L680.05,622.91L680.50,627.52L680.96,631.73L681.42,635.50L681.88,638.98L682.34,642.21L682.80,645.22L683.25,648.04L683.71,650.69L684.17,653.19L684.63,655.52L685.09,657.70L685.55,659.78L686.00,661.76L686.46,663.67L686.92,665.53L687.38,667.36L687.84,669.16L688.30,670.98L688.75,672.75L689.21,674.43L689.67,675.95L690.13,677.32L690.59,678.60L691.05,679.79L691.50,680.92L691.96,682.01L692.42,683.06L692.88,684.09L693.34,685.09L693.80,686.06L694.25,686.97L694.71,687.84L695.17,688.65L695.63,689.39L696.09,690.10L696.55,690.77L697.00,691.42L697.46,692.02L697.92,692.59L698.38,693.12L698.84,693.60L699.30,694.03L699.75,694.43L700.21,694.81L700.67,695.16L701.13,695.49L701.59,695.80L702.05,696.09L702.50,696.36L702.96,696.62L703.42,696.86L703.88,697.08L704.34,697.30L704.80,697.50L705.25,697.69L705.71,697.87L706.17,698.04L706.63,698.21L707.09,698.36L707.55,698.52L708.00,698.66L708.46,698.80L708.92,698.94L709.38,699.07L709.84,699.20L710.30,699.32L710.75,699.44L711.21,699.56L711.67,699.67L712.13,699.77L712.59,699.87L713.05,699.96L713.50,700.05L713.96,700.14L714.42,700.22L714.88,700.29L715.34,700.37L715.80,700.44L716.25,700.50L716.71,700.57L717.17,700.63L717.63,700.69L718.09,700.76L718.55,700.82L719.00,700.88L719.46,700.94L719.92,701.00L720.38,701.06L720.84,701.12L721.30,701.18L721.75,701.23L722.21,701.29L722.67,701.34L723.13,701.39L723.59,701.44L724.05,701.48L724.50,701.53L724.96,701.57L725.42,701.61L725.88,701.65L726.34,701.68L726.80,701.72L727.25,701.75L727.71,701.79L728.17,701.82L728.63,701.86L729.09,701.89L729.55,701.93L730.00,701.96L730.46,701.99L730.92,702.03L731.38,702.06L731.84,702.09L732.30,702.12L732.75,702.16L733.21,702.19L733.67,702.22L734.13,702.25L734.59,702.28L735.05,702.31L735.50,702.34L735.96,702.37L736.42,702.40L736.88,702.43L737.34,702.46L737.80,702.48L738.25,702.51L738.71,702.54L739.17,702.56L739.63,702.59L740.09,702.61L740.55,702.63L741.00,702.65L741.46,702.67L741.92,702.69L742.38,702.71L742.84,702.73L743.30,702.75L743.75,702.76L744.21,702.78L744.67,702.80L745.13,702.81L745.59,702.83L746.05,702.84L746.50,702.86L746.96,702.87L747.42,702.89L747.88,702.91L748.34,702.92L748.80,702.94L749.25,702.95L749.71,702.97L750.17,702.98L750.63,703.00L751.09,703.01L751.55,703.03L752.00,703.04L752.46,703.06L752.92,703.07L753.38,703.09L753.84,703.10L754.30,703.11L754.75,703.13L755.21,703.14L755.67,703.16L756.13,703.17L756.59,703.18L757.05,703.20L757.50,703.21L757.96,703.22L758.42,703.24L758.88,703.25L759.34,703.26L759.80,703.28L760.25,703.29L760.71,703.30L761.17,703.32L761.63,703.33L762.09,703.34L762.55,703.35L763.00,703.37L763.46,703.38L763.92,703.39L764.38,703.40L764.84,703.42L765.30,703.43L765.75,703.44L766.21,703.45L766.67,703.46L767.13,703.48L767.59,703.49L768.05,703.50L768.50,703.51L768.96,703.52L769.42,703.53L769.88,703.54L770.34,703.56L770.80,703.57L771.25,703.58L771.71,703.59L772.17,703.60L772.63,703.61L773.09,703.62L773.55,703.63L774.00,703.64L774.46,703.65L774.92,703.66L775.38,703.67L775.84,703.69L776.30,703.70L776.75,703.71L777.21,703.72L777.67,703.73L778.13,703.74L778.59,703.75L779.05,703.76L779.50,703.77L779.96,703.78L780.42,703.79L780.88,703.80L781.34,703.81L781.80,703.82L782.25,703.82L782.71,703.83L783.17,703.84L783.63,703.85L784.09,703.86L784.55,703.87L785.00,703.88L785.46,703.89L785.92,703.90L786.38,703.91L786.84,703.92L787.30,703.93L787.75,703.93L788.21,703.94L788.67,703.95L789.13,703.96L789.59,703.97L790.05,703.98L790.50,703.99L790.96,704.00L791.42,704.00L791.88,704.01L792.34,704.02L792.80,704.03L793.25,704.04L793.71,704.04L794.17,704.05L794.63,704.06L795.09,704.07L795.55,704.08L796.00,704.08L796.46,704.09L796.92,704.10L797.38,704.11L797.84,704.12L798.30,704.12L798.75,704.13L799.21,704.14L799.67,704.15L800.13,704.15L800.59,704.16L801.05,704.17L801.50,704.18L801.96,704.18L802.42,704.19L802.88,704.20L803.34,704.20L803.80,704.21L804.25,704.22L804.71,704.23L805.17,704.23L805.63,704.24L806.09,704.25L806.55,704.25" stroke="#b98bce" stroke-width="2" fill="none" stroke-linejoin="round"/>
<text x="431.5" y="743" font-family="Liberation Sans" font-size="13" text-anchor="middle" fill="#222">time</text>
<text transform="translate(20.3,413) rotate(-90)" font-family="Liberation Sans" font-size="12" text-anchor="middle" fill="#222">1_Cp</text>
</svg>

<div class="hdr" style="top:0"><span style="display:inline-block;transform:scaleX(0.89)">GENERAL</span></div>

<div class="tgl" style="top:58px"></div><div class="knob" style="top:55px"></div><div class="lbl" style="top:57px">Legend</div>
<div class="tgl" style="top:98px"></div><div class="knob" style="top:95px"></div><div class="lbl" style="top:97px">Grid</div>
<div class="tgl" style="top:138px"></div><div class="knob" style="top:135px"></div><div class="lbl" style="top:137px">Information</div>
<div style="opacity:0.4"><div class="tgl" style="top:178px"></div><div class="knob" style="top:175px"></div><div class="lbl" style="top:177px">Units</div></div>
<div class="tgl" style="top:218px"></div><div class="knob" style="top:215px"></div><div class="lbl" style="top:217px">Dosing times</div>

<div class="abs" style="left:854px;top:259px;width:353px;text-align:center;font-size:17px;color:#999">Zoom</div>
<div class="abs" style="left:874px;top:292px;font-size:13px;color:#333">Zoom constraint</div>
<div class="rad" style="top:310px;border-color:#777"><div class="abs" style="left:2.5px;top:2.5px;width:11px;height:11px;border-radius:6px;background:#888"></div></div>
<div class="lbl" style="left:906px;top:313px">None</div>
<div class="rad" style="top:334px"></div><div class="lbl" style="left:906px;top:337px">X-axis</div>
<div class="rad" style="top:358px"></div><div class="lbl" style="left:906px;top:361px">Y-axis</div>
<div class="tgl" style="top:402px"></div><div class="knob" style="top:399px"></div><div class="lbl" style="top:401px">Link zoom between plots</div>

<div class="hdr" style="top:458px"><span style="display:inline-block;transform:scaleX(0.93)">DISPLAY</span></div>
<div class="hdr" style="top:492px"><span style="display:inline-block;transform:scaleX(0.94)">SORTING</span></div>
<div class="hdr" style="top:526px"><span style="display:inline-block;transform:scaleX(0.855)">AXES</span></div>
<div class="abs" style="left:854px;top:560px;width:353px;height:156px;background:#ececec"></div>
<div class="tab" style="left:853px"><span style="display:inline-block;transform:scaleX(0.855)">STRATIFY</span></div>
<div class="tab" style="left:971px;background:#999;color:#fff"><span style="display:inline-block;transform:scaleX(0.9)">SETTINGS</span></div>
<svg class="abs" style="left:1197px;top:743px;z-index:5" width="10" height="10" viewBox="0 0 10 10"><path d="M3 10Q8 9 10 3" stroke="#2a6fc9" stroke-width="1.6" fill="none"/></svg>
<div class="tab" style="left:1089px"><span style="display:inline-block;transform:scaleX(0.863)">PREFERENCES</span></div>
</body></html>
